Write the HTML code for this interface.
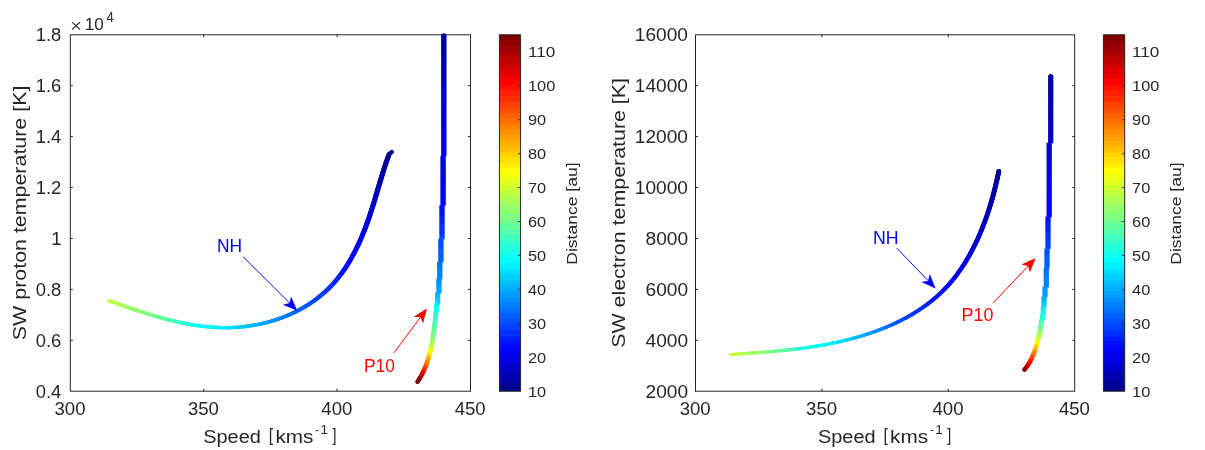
<!DOCTYPE html>
<html><head><meta charset="utf-8"><title>Solar wind temperature vs speed</title>
<style>html,body{margin:0;padding:0;background:#fff;width:1205px;height:450px;overflow:hidden;font-family:"Liberation Sans",sans-serif}svg{display:block;filter:blur(0.35px)}</style>
</head><body>
<svg width="1205" height="450" viewBox="0 0 1205 450" font-family='"Liberation Sans", sans-serif'><rect x="70.3" y="34.8" width="400.2" height="356.4" fill="none" stroke="#262626" stroke-width="1"/><path d="M203.7 391.2v-2.5M203.7 34.8v2.5" stroke="#262626" stroke-width="1"/><path d="M337.1 391.2v-2.5M337.1 34.8v2.5" stroke="#262626" stroke-width="1"/><path d="M70.3 340.3h2.5M470.5 340.3h-2.5" stroke="#262626" stroke-width="1"/><path d="M70.3 289.4h2.5M470.5 289.4h-2.5" stroke="#262626" stroke-width="1"/><path d="M70.3 238.5h2.5M470.5 238.5h-2.5" stroke="#262626" stroke-width="1"/><path d="M70.3 187.5h2.5M470.5 187.5h-2.5" stroke="#262626" stroke-width="1"/><path d="M70.3 136.6h2.5M470.5 136.6h-2.5" stroke="#262626" stroke-width="1"/><path d="M70.3 85.7h2.5M470.5 85.7h-2.5" stroke="#262626" stroke-width="1"/><rect x="695.5" y="34.8" width="379.2" height="356.4" fill="none" stroke="#262626" stroke-width="1"/><path d="M821.9 391.2v-2.5M821.9 34.8v2.5" stroke="#262626" stroke-width="1"/><path d="M948.3 391.2v-2.5M948.3 34.8v2.5" stroke="#262626" stroke-width="1"/><path d="M695.5 340.3h2.5M1074.7 340.3h-2.5" stroke="#262626" stroke-width="1"/><path d="M695.5 289.4h2.5M1074.7 289.4h-2.5" stroke="#262626" stroke-width="1"/><path d="M695.5 238.5h2.5M1074.7 238.5h-2.5" stroke="#262626" stroke-width="1"/><path d="M695.5 187.5h2.5M1074.7 187.5h-2.5" stroke="#262626" stroke-width="1"/><path d="M695.5 136.6h2.5M1074.7 136.6h-2.5" stroke="#262626" stroke-width="1"/><path d="M695.5 85.7h2.5M1074.7 85.7h-2.5" stroke="#262626" stroke-width="1"/><text x="54.5" y="414.6" font-size="18.8" text-anchor="start" fill="#262626" textLength="31.0" lengthAdjust="spacingAndGlyphs">300</text><text x="187.9" y="414.6" font-size="18.8" text-anchor="start" fill="#262626" textLength="31.0" lengthAdjust="spacingAndGlyphs">350</text><text x="321.3" y="414.6" font-size="18.8" text-anchor="start" fill="#262626" textLength="31.0" lengthAdjust="spacingAndGlyphs">400</text><text x="454.7" y="414.6" font-size="18.8" text-anchor="start" fill="#262626" textLength="31.0" lengthAdjust="spacingAndGlyphs">450</text><text x="35.7" y="397.8" font-size="18.6" text-anchor="start" fill="#262626" textLength="25.6" lengthAdjust="spacingAndGlyphs">0.4</text><text x="35.7" y="346.9" font-size="18.6" text-anchor="start" fill="#262626" textLength="25.6" lengthAdjust="spacingAndGlyphs">0.6</text><text x="35.7" y="296.0" font-size="18.6" text-anchor="start" fill="#262626" textLength="25.6" lengthAdjust="spacingAndGlyphs">0.8</text><text x="51.2" y="245.1" font-size="18.6" text-anchor="start" fill="#262626" textLength="10.4" lengthAdjust="spacingAndGlyphs">1</text><text x="35.7" y="194.1" font-size="18.6" text-anchor="start" fill="#262626" textLength="25.6" lengthAdjust="spacingAndGlyphs">1.2</text><text x="35.7" y="143.2" font-size="18.6" text-anchor="start" fill="#262626" textLength="25.6" lengthAdjust="spacingAndGlyphs">1.4</text><text x="35.7" y="92.3" font-size="18.6" text-anchor="start" fill="#262626" textLength="25.6" lengthAdjust="spacingAndGlyphs">1.6</text><text x="35.7" y="41.4" font-size="18.6" text-anchor="start" fill="#262626" textLength="25.6" lengthAdjust="spacingAndGlyphs">1.8</text><text x="70.2" y="31.9" font-size="18.6" text-anchor="start" fill="#4a4a4a" textLength="11.6" lengthAdjust="spacingAndGlyphs">×</text><text x="84.8" y="30.0" font-size="16.9" text-anchor="start" fill="#262626" textLength="19.0" lengthAdjust="spacingAndGlyphs">10</text><text x="106.6" y="21.7" font-size="14.6" text-anchor="start" fill="#262626" textLength="7.3" lengthAdjust="spacingAndGlyphs">4</text><text x="203.2" y="442.6" font-size="19.2" text-anchor="start" fill="#262626" textLength="57.7" lengthAdjust="spacingAndGlyphs">Speed</text><text x="268.7" y="441.1" font-size="18.4" text-anchor="start" fill="#262626" textLength="4.4" lengthAdjust="spacingAndGlyphs">[</text><text x="275.4" y="442.6" font-size="19.2" text-anchor="start" fill="#262626" textLength="38.0" lengthAdjust="spacingAndGlyphs">kms</text><text x="315.2" y="433.9" font-size="13.0" text-anchor="start" fill="#262626" textLength="3.5" lengthAdjust="spacingAndGlyphs">-</text><text x="320.5" y="433.5" font-size="13.0" text-anchor="start" fill="#262626" textLength="7.5" lengthAdjust="spacingAndGlyphs">1</text><text x="332.6" y="441.1" font-size="18.4" text-anchor="start" fill="#262626" textLength="4.0" lengthAdjust="spacingAndGlyphs">]</text><text x="817.9" y="442.6" font-size="19.2" text-anchor="start" fill="#262626" textLength="57.7" lengthAdjust="spacingAndGlyphs">Speed</text><text x="883.4" y="441.1" font-size="18.4" text-anchor="start" fill="#262626" textLength="4.4" lengthAdjust="spacingAndGlyphs">[</text><text x="890.1" y="442.6" font-size="19.2" text-anchor="start" fill="#262626" textLength="38.0" lengthAdjust="spacingAndGlyphs">kms</text><text x="929.9" y="433.9" font-size="13.0" text-anchor="start" fill="#262626" textLength="3.5" lengthAdjust="spacingAndGlyphs">-</text><text x="935.2" y="433.5" font-size="13.0" text-anchor="start" fill="#262626" textLength="7.5" lengthAdjust="spacingAndGlyphs">1</text><text x="947.3" y="441.1" font-size="18.4" text-anchor="start" fill="#262626" textLength="4.0" lengthAdjust="spacingAndGlyphs">]</text><text transform="translate(25.60 340.17) rotate(-90)" font-size="18.4" fill="#262626" textLength="254.56" lengthAdjust="spacingAndGlyphs">SW proton temperature [K]</text><text transform="translate(624.50 347.87) rotate(-90)" font-size="18.4" fill="#262626" textLength="269.90" lengthAdjust="spacingAndGlyphs">SW electron temperature [K]</text><text x="679.7" y="414.6" font-size="18.8" text-anchor="start" fill="#262626" textLength="31.0" lengthAdjust="spacingAndGlyphs">300</text><text x="806.1" y="414.6" font-size="18.8" text-anchor="start" fill="#262626" textLength="31.0" lengthAdjust="spacingAndGlyphs">350</text><text x="932.5" y="414.6" font-size="18.8" text-anchor="start" fill="#262626" textLength="31.0" lengthAdjust="spacingAndGlyphs">400</text><text x="1058.9" y="414.6" font-size="18.8" text-anchor="start" fill="#262626" textLength="31.0" lengthAdjust="spacingAndGlyphs">450</text><text x="645.5" y="397.8" font-size="18.6" text-anchor="start" fill="#262626" textLength="42.6" lengthAdjust="spacingAndGlyphs">2000</text><text x="645.5" y="346.9" font-size="18.6" text-anchor="start" fill="#262626" textLength="42.6" lengthAdjust="spacingAndGlyphs">4000</text><text x="645.5" y="296.0" font-size="18.6" text-anchor="start" fill="#262626" textLength="42.6" lengthAdjust="spacingAndGlyphs">6000</text><text x="645.5" y="245.1" font-size="18.6" text-anchor="start" fill="#262626" textLength="42.6" lengthAdjust="spacingAndGlyphs">8000</text><text x="634.8" y="194.1" font-size="18.6" text-anchor="start" fill="#262626" textLength="53.2" lengthAdjust="spacingAndGlyphs">10000</text><text x="634.8" y="143.2" font-size="18.6" text-anchor="start" fill="#262626" textLength="53.2" lengthAdjust="spacingAndGlyphs">12000</text><text x="634.8" y="92.3" font-size="18.6" text-anchor="start" fill="#262626" textLength="53.2" lengthAdjust="spacingAndGlyphs">14000</text><text x="634.8" y="41.4" font-size="18.6" text-anchor="start" fill="#262626" textLength="53.2" lengthAdjust="spacingAndGlyphs">16000</text><linearGradient id="cb499" x1="0" y1="1" x2="0" y2="0"><stop offset="0.0000" stop-color="#00008f"/><stop offset="0.0156" stop-color="#00008f"/><stop offset="0.0156" stop-color="#00009f"/><stop offset="0.0312" stop-color="#00009f"/><stop offset="0.0312" stop-color="#0000af"/><stop offset="0.0469" stop-color="#0000af"/><stop offset="0.0469" stop-color="#0000bf"/><stop offset="0.0625" stop-color="#0000bf"/><stop offset="0.0625" stop-color="#0000cf"/><stop offset="0.0781" stop-color="#0000cf"/><stop offset="0.0781" stop-color="#0000df"/><stop offset="0.0938" stop-color="#0000df"/><stop offset="0.0938" stop-color="#0000ef"/><stop offset="0.1094" stop-color="#0000ef"/><stop offset="0.1094" stop-color="#0000ff"/><stop offset="0.1250" stop-color="#0000ff"/><stop offset="0.1250" stop-color="#0010ff"/><stop offset="0.1406" stop-color="#0010ff"/><stop offset="0.1406" stop-color="#0020ff"/><stop offset="0.1562" stop-color="#0020ff"/><stop offset="0.1562" stop-color="#0030ff"/><stop offset="0.1719" stop-color="#0030ff"/><stop offset="0.1719" stop-color="#0040ff"/><stop offset="0.1875" stop-color="#0040ff"/><stop offset="0.1875" stop-color="#0050ff"/><stop offset="0.2031" stop-color="#0050ff"/><stop offset="0.2031" stop-color="#0060ff"/><stop offset="0.2188" stop-color="#0060ff"/><stop offset="0.2188" stop-color="#0070ff"/><stop offset="0.2344" stop-color="#0070ff"/><stop offset="0.2344" stop-color="#0080ff"/><stop offset="0.2500" stop-color="#0080ff"/><stop offset="0.2500" stop-color="#008fff"/><stop offset="0.2656" stop-color="#008fff"/><stop offset="0.2656" stop-color="#009fff"/><stop offset="0.2812" stop-color="#009fff"/><stop offset="0.2812" stop-color="#00afff"/><stop offset="0.2969" stop-color="#00afff"/><stop offset="0.2969" stop-color="#00bfff"/><stop offset="0.3125" stop-color="#00bfff"/><stop offset="0.3125" stop-color="#00cfff"/><stop offset="0.3281" stop-color="#00cfff"/><stop offset="0.3281" stop-color="#00dfff"/><stop offset="0.3438" stop-color="#00dfff"/><stop offset="0.3438" stop-color="#00efff"/><stop offset="0.3594" stop-color="#00efff"/><stop offset="0.3594" stop-color="#00ffff"/><stop offset="0.3750" stop-color="#00ffff"/><stop offset="0.3750" stop-color="#10ffef"/><stop offset="0.3906" stop-color="#10ffef"/><stop offset="0.3906" stop-color="#20ffdf"/><stop offset="0.4062" stop-color="#20ffdf"/><stop offset="0.4062" stop-color="#30ffcf"/><stop offset="0.4219" stop-color="#30ffcf"/><stop offset="0.4219" stop-color="#40ffbf"/><stop offset="0.4375" stop-color="#40ffbf"/><stop offset="0.4375" stop-color="#50ffaf"/><stop offset="0.4531" stop-color="#50ffaf"/><stop offset="0.4531" stop-color="#60ff9f"/><stop offset="0.4688" stop-color="#60ff9f"/><stop offset="0.4688" stop-color="#70ff8f"/><stop offset="0.4844" stop-color="#70ff8f"/><stop offset="0.4844" stop-color="#80ff80"/><stop offset="0.5000" stop-color="#80ff80"/><stop offset="0.5000" stop-color="#8fff70"/><stop offset="0.5156" stop-color="#8fff70"/><stop offset="0.5156" stop-color="#9fff60"/><stop offset="0.5312" stop-color="#9fff60"/><stop offset="0.5312" stop-color="#afff50"/><stop offset="0.5469" stop-color="#afff50"/><stop offset="0.5469" stop-color="#bfff40"/><stop offset="0.5625" stop-color="#bfff40"/><stop offset="0.5625" stop-color="#cfff30"/><stop offset="0.5781" stop-color="#cfff30"/><stop offset="0.5781" stop-color="#dfff20"/><stop offset="0.5938" stop-color="#dfff20"/><stop offset="0.5938" stop-color="#efff10"/><stop offset="0.6094" stop-color="#efff10"/><stop offset="0.6094" stop-color="#ffff00"/><stop offset="0.6250" stop-color="#ffff00"/><stop offset="0.6250" stop-color="#ffef00"/><stop offset="0.6406" stop-color="#ffef00"/><stop offset="0.6406" stop-color="#ffdf00"/><stop offset="0.6562" stop-color="#ffdf00"/><stop offset="0.6562" stop-color="#ffcf00"/><stop offset="0.6719" stop-color="#ffcf00"/><stop offset="0.6719" stop-color="#ffbf00"/><stop offset="0.6875" stop-color="#ffbf00"/><stop offset="0.6875" stop-color="#ffaf00"/><stop offset="0.7031" stop-color="#ffaf00"/><stop offset="0.7031" stop-color="#ff9f00"/><stop offset="0.7188" stop-color="#ff9f00"/><stop offset="0.7188" stop-color="#ff8f00"/><stop offset="0.7344" stop-color="#ff8f00"/><stop offset="0.7344" stop-color="#ff8000"/><stop offset="0.7500" stop-color="#ff8000"/><stop offset="0.7500" stop-color="#ff7000"/><stop offset="0.7656" stop-color="#ff7000"/><stop offset="0.7656" stop-color="#ff6000"/><stop offset="0.7812" stop-color="#ff6000"/><stop offset="0.7812" stop-color="#ff5000"/><stop offset="0.7969" stop-color="#ff5000"/><stop offset="0.7969" stop-color="#ff4000"/><stop offset="0.8125" stop-color="#ff4000"/><stop offset="0.8125" stop-color="#ff3000"/><stop offset="0.8281" stop-color="#ff3000"/><stop offset="0.8281" stop-color="#ff2000"/><stop offset="0.8438" stop-color="#ff2000"/><stop offset="0.8438" stop-color="#ff1000"/><stop offset="0.8594" stop-color="#ff1000"/><stop offset="0.8594" stop-color="#ff0000"/><stop offset="0.8750" stop-color="#ff0000"/><stop offset="0.8750" stop-color="#ef0000"/><stop offset="0.8906" stop-color="#ef0000"/><stop offset="0.8906" stop-color="#df0000"/><stop offset="0.9062" stop-color="#df0000"/><stop offset="0.9062" stop-color="#cf0000"/><stop offset="0.9219" stop-color="#cf0000"/><stop offset="0.9219" stop-color="#bf0000"/><stop offset="0.9375" stop-color="#bf0000"/><stop offset="0.9375" stop-color="#af0000"/><stop offset="0.9531" stop-color="#af0000"/><stop offset="0.9531" stop-color="#9f0000"/><stop offset="0.9688" stop-color="#9f0000"/><stop offset="0.9688" stop-color="#8f0000"/><stop offset="0.9844" stop-color="#8f0000"/><stop offset="0.9844" stop-color="#800000"/><stop offset="1.0000" stop-color="#800000"/></linearGradient><rect x="499.4" y="34.8" width="21.2" height="356.4" fill="url(#cb499)" stroke="#262626" stroke-width="1"/><text x="528.0" y="396.6" font-size="15.4" text-anchor="start" fill="#262626" textLength="18.2" lengthAdjust="spacingAndGlyphs">10</text><path d="M520.6 357.3h-2.5" stroke="#262626" stroke-width="1"/><text x="528.0" y="362.7" font-size="15.4" text-anchor="start" fill="#262626" textLength="18.2" lengthAdjust="spacingAndGlyphs">20</text><path d="M520.6 323.3h-2.5" stroke="#262626" stroke-width="1"/><text x="528.0" y="328.7" font-size="15.4" text-anchor="start" fill="#262626" textLength="18.2" lengthAdjust="spacingAndGlyphs">30</text><path d="M520.6 289.4h-2.5" stroke="#262626" stroke-width="1"/><text x="528.0" y="294.8" font-size="15.4" text-anchor="start" fill="#262626" textLength="18.2" lengthAdjust="spacingAndGlyphs">40</text><path d="M520.6 255.4h-2.5" stroke="#262626" stroke-width="1"/><text x="528.0" y="260.8" font-size="15.4" text-anchor="start" fill="#262626" textLength="18.2" lengthAdjust="spacingAndGlyphs">50</text><path d="M520.6 221.5h-2.5" stroke="#262626" stroke-width="1"/><text x="528.0" y="226.9" font-size="15.4" text-anchor="start" fill="#262626" textLength="18.2" lengthAdjust="spacingAndGlyphs">60</text><path d="M520.6 187.5h-2.5" stroke="#262626" stroke-width="1"/><text x="528.0" y="192.8" font-size="15.4" text-anchor="start" fill="#262626" textLength="18.2" lengthAdjust="spacingAndGlyphs">70</text><path d="M520.6 153.6h-2.5" stroke="#262626" stroke-width="1"/><text x="528.0" y="158.8" font-size="15.4" text-anchor="start" fill="#262626" textLength="18.2" lengthAdjust="spacingAndGlyphs">80</text><path d="M520.6 119.7h-2.5" stroke="#262626" stroke-width="1"/><text x="528.0" y="124.7" font-size="15.4" text-anchor="start" fill="#262626" textLength="18.2" lengthAdjust="spacingAndGlyphs">90</text><path d="M520.6 85.7h-2.5" stroke="#262626" stroke-width="1"/><text x="528.0" y="90.6" font-size="15.4" text-anchor="start" fill="#262626" textLength="27.3" lengthAdjust="spacingAndGlyphs">100</text><path d="M520.6 51.8h-2.5" stroke="#262626" stroke-width="1"/><text x="528.0" y="56.6" font-size="15.4" text-anchor="start" fill="#262626" textLength="27.3" lengthAdjust="spacingAndGlyphs">110</text><linearGradient id="cb1103" x1="0" y1="1" x2="0" y2="0"><stop offset="0.0000" stop-color="#00008f"/><stop offset="0.0156" stop-color="#00008f"/><stop offset="0.0156" stop-color="#00009f"/><stop offset="0.0312" stop-color="#00009f"/><stop offset="0.0312" stop-color="#0000af"/><stop offset="0.0469" stop-color="#0000af"/><stop offset="0.0469" stop-color="#0000bf"/><stop offset="0.0625" stop-color="#0000bf"/><stop offset="0.0625" stop-color="#0000cf"/><stop offset="0.0781" stop-color="#0000cf"/><stop offset="0.0781" stop-color="#0000df"/><stop offset="0.0938" stop-color="#0000df"/><stop offset="0.0938" stop-color="#0000ef"/><stop offset="0.1094" stop-color="#0000ef"/><stop offset="0.1094" stop-color="#0000ff"/><stop offset="0.1250" stop-color="#0000ff"/><stop offset="0.1250" stop-color="#0010ff"/><stop offset="0.1406" stop-color="#0010ff"/><stop offset="0.1406" stop-color="#0020ff"/><stop offset="0.1562" stop-color="#0020ff"/><stop offset="0.1562" stop-color="#0030ff"/><stop offset="0.1719" stop-color="#0030ff"/><stop offset="0.1719" stop-color="#0040ff"/><stop offset="0.1875" stop-color="#0040ff"/><stop offset="0.1875" stop-color="#0050ff"/><stop offset="0.2031" stop-color="#0050ff"/><stop offset="0.2031" stop-color="#0060ff"/><stop offset="0.2188" stop-color="#0060ff"/><stop offset="0.2188" stop-color="#0070ff"/><stop offset="0.2344" stop-color="#0070ff"/><stop offset="0.2344" stop-color="#0080ff"/><stop offset="0.2500" stop-color="#0080ff"/><stop offset="0.2500" stop-color="#008fff"/><stop offset="0.2656" stop-color="#008fff"/><stop offset="0.2656" stop-color="#009fff"/><stop offset="0.2812" stop-color="#009fff"/><stop offset="0.2812" stop-color="#00afff"/><stop offset="0.2969" stop-color="#00afff"/><stop offset="0.2969" stop-color="#00bfff"/><stop offset="0.3125" stop-color="#00bfff"/><stop offset="0.3125" stop-color="#00cfff"/><stop offset="0.3281" stop-color="#00cfff"/><stop offset="0.3281" stop-color="#00dfff"/><stop offset="0.3438" stop-color="#00dfff"/><stop offset="0.3438" stop-color="#00efff"/><stop offset="0.3594" stop-color="#00efff"/><stop offset="0.3594" stop-color="#00ffff"/><stop offset="0.3750" stop-color="#00ffff"/><stop offset="0.3750" stop-color="#10ffef"/><stop offset="0.3906" stop-color="#10ffef"/><stop offset="0.3906" stop-color="#20ffdf"/><stop offset="0.4062" stop-color="#20ffdf"/><stop offset="0.4062" stop-color="#30ffcf"/><stop offset="0.4219" stop-color="#30ffcf"/><stop offset="0.4219" stop-color="#40ffbf"/><stop offset="0.4375" stop-color="#40ffbf"/><stop offset="0.4375" stop-color="#50ffaf"/><stop offset="0.4531" stop-color="#50ffaf"/><stop offset="0.4531" stop-color="#60ff9f"/><stop offset="0.4688" stop-color="#60ff9f"/><stop offset="0.4688" stop-color="#70ff8f"/><stop offset="0.4844" stop-color="#70ff8f"/><stop offset="0.4844" stop-color="#80ff80"/><stop offset="0.5000" stop-color="#80ff80"/><stop offset="0.5000" stop-color="#8fff70"/><stop offset="0.5156" stop-color="#8fff70"/><stop offset="0.5156" stop-color="#9fff60"/><stop offset="0.5312" stop-color="#9fff60"/><stop offset="0.5312" stop-color="#afff50"/><stop offset="0.5469" stop-color="#afff50"/><stop offset="0.5469" stop-color="#bfff40"/><stop offset="0.5625" stop-color="#bfff40"/><stop offset="0.5625" stop-color="#cfff30"/><stop offset="0.5781" stop-color="#cfff30"/><stop offset="0.5781" stop-color="#dfff20"/><stop offset="0.5938" stop-color="#dfff20"/><stop offset="0.5938" stop-color="#efff10"/><stop offset="0.6094" stop-color="#efff10"/><stop offset="0.6094" stop-color="#ffff00"/><stop offset="0.6250" stop-color="#ffff00"/><stop offset="0.6250" stop-color="#ffef00"/><stop offset="0.6406" stop-color="#ffef00"/><stop offset="0.6406" stop-color="#ffdf00"/><stop offset="0.6562" stop-color="#ffdf00"/><stop offset="0.6562" stop-color="#ffcf00"/><stop offset="0.6719" stop-color="#ffcf00"/><stop offset="0.6719" stop-color="#ffbf00"/><stop offset="0.6875" stop-color="#ffbf00"/><stop offset="0.6875" stop-color="#ffaf00"/><stop offset="0.7031" stop-color="#ffaf00"/><stop offset="0.7031" stop-color="#ff9f00"/><stop offset="0.7188" stop-color="#ff9f00"/><stop offset="0.7188" stop-color="#ff8f00"/><stop offset="0.7344" stop-color="#ff8f00"/><stop offset="0.7344" stop-color="#ff8000"/><stop offset="0.7500" stop-color="#ff8000"/><stop offset="0.7500" stop-color="#ff7000"/><stop offset="0.7656" stop-color="#ff7000"/><stop offset="0.7656" stop-color="#ff6000"/><stop offset="0.7812" stop-color="#ff6000"/><stop offset="0.7812" stop-color="#ff5000"/><stop offset="0.7969" stop-color="#ff5000"/><stop offset="0.7969" stop-color="#ff4000"/><stop offset="0.8125" stop-color="#ff4000"/><stop offset="0.8125" stop-color="#ff3000"/><stop offset="0.8281" stop-color="#ff3000"/><stop offset="0.8281" stop-color="#ff2000"/><stop offset="0.8438" stop-color="#ff2000"/><stop offset="0.8438" stop-color="#ff1000"/><stop offset="0.8594" stop-color="#ff1000"/><stop offset="0.8594" stop-color="#ff0000"/><stop offset="0.8750" stop-color="#ff0000"/><stop offset="0.8750" stop-color="#ef0000"/><stop offset="0.8906" stop-color="#ef0000"/><stop offset="0.8906" stop-color="#df0000"/><stop offset="0.9062" stop-color="#df0000"/><stop offset="0.9062" stop-color="#cf0000"/><stop offset="0.9219" stop-color="#cf0000"/><stop offset="0.9219" stop-color="#bf0000"/><stop offset="0.9375" stop-color="#bf0000"/><stop offset="0.9375" stop-color="#af0000"/><stop offset="0.9531" stop-color="#af0000"/><stop offset="0.9531" stop-color="#9f0000"/><stop offset="0.9688" stop-color="#9f0000"/><stop offset="0.9688" stop-color="#8f0000"/><stop offset="0.9844" stop-color="#8f0000"/><stop offset="0.9844" stop-color="#800000"/><stop offset="1.0000" stop-color="#800000"/></linearGradient><rect x="1103.4" y="34.8" width="21.3" height="356.4" fill="url(#cb1103)" stroke="#262626" stroke-width="1"/><text x="1132.1" y="396.6" font-size="15.4" text-anchor="start" fill="#262626" textLength="18.2" lengthAdjust="spacingAndGlyphs">10</text><path d="M1124.7 357.3h-2.5" stroke="#262626" stroke-width="1"/><text x="1132.1" y="362.7" font-size="15.4" text-anchor="start" fill="#262626" textLength="18.2" lengthAdjust="spacingAndGlyphs">20</text><path d="M1124.7 323.3h-2.5" stroke="#262626" stroke-width="1"/><text x="1132.1" y="328.7" font-size="15.4" text-anchor="start" fill="#262626" textLength="18.2" lengthAdjust="spacingAndGlyphs">30</text><path d="M1124.7 289.4h-2.5" stroke="#262626" stroke-width="1"/><text x="1132.1" y="294.8" font-size="15.4" text-anchor="start" fill="#262626" textLength="18.2" lengthAdjust="spacingAndGlyphs">40</text><path d="M1124.7 255.4h-2.5" stroke="#262626" stroke-width="1"/><text x="1132.1" y="260.8" font-size="15.4" text-anchor="start" fill="#262626" textLength="18.2" lengthAdjust="spacingAndGlyphs">50</text><path d="M1124.7 221.5h-2.5" stroke="#262626" stroke-width="1"/><text x="1132.1" y="226.9" font-size="15.4" text-anchor="start" fill="#262626" textLength="18.2" lengthAdjust="spacingAndGlyphs">60</text><path d="M1124.7 187.5h-2.5" stroke="#262626" stroke-width="1"/><text x="1132.1" y="192.8" font-size="15.4" text-anchor="start" fill="#262626" textLength="18.2" lengthAdjust="spacingAndGlyphs">70</text><path d="M1124.7 153.6h-2.5" stroke="#262626" stroke-width="1"/><text x="1132.1" y="158.8" font-size="15.4" text-anchor="start" fill="#262626" textLength="18.2" lengthAdjust="spacingAndGlyphs">80</text><path d="M1124.7 119.7h-2.5" stroke="#262626" stroke-width="1"/><text x="1132.1" y="124.7" font-size="15.4" text-anchor="start" fill="#262626" textLength="18.2" lengthAdjust="spacingAndGlyphs">90</text><path d="M1124.7 85.7h-2.5" stroke="#262626" stroke-width="1"/><text x="1132.1" y="90.6" font-size="15.4" text-anchor="start" fill="#262626" textLength="27.3" lengthAdjust="spacingAndGlyphs">100</text><path d="M1124.7 51.8h-2.5" stroke="#262626" stroke-width="1"/><text x="1132.1" y="56.6" font-size="15.4" text-anchor="start" fill="#262626" textLength="27.3" lengthAdjust="spacingAndGlyphs">110</text><text transform="translate(576.60 264.70) rotate(-90)" font-size="14.8" fill="#262626" textLength="102.24" lengthAdjust="spacingAndGlyphs">Distance [au]</text><text transform="translate(1180.70 264.70) rotate(-90)" font-size="14.8" fill="#262626" textLength="102.24" lengthAdjust="spacingAndGlyphs">Distance [au]</text><g fill="none" stroke-linecap="round"><circle cx="109.32" cy="300.81" r="1.84" fill="#cfff30"/><circle cx="391.80" cy="152.00" r="2.09" fill="#00008f"/><path d="M109.32 300.81L110.74 301.32" stroke="#bfff40" stroke-width="3.68"/><path d="M110.74 301.32L112.18 301.83" stroke="#bfff40" stroke-width="3.68"/><path d="M112.18 301.83L113.61 302.34" stroke="#bfff40" stroke-width="3.68"/><path d="M113.61 302.34L115.05 302.85" stroke="#bfff40" stroke-width="3.68"/><path d="M115.05 302.85L116.50 303.36" stroke="#bfff40" stroke-width="3.68"/><path d="M116.50 303.36L117.95 303.88" stroke="#bfff40" stroke-width="3.68"/><path d="M117.95 303.88L119.41 304.39" stroke="#afff50" stroke-width="3.68"/><path d="M119.41 304.39L120.87 304.91" stroke="#afff50" stroke-width="3.68"/><path d="M120.87 304.91L122.34 305.42" stroke="#afff50" stroke-width="3.68"/><path d="M122.34 305.42L123.81 305.94" stroke="#afff50" stroke-width="3.67"/><path d="M123.81 305.94L125.29 306.45" stroke="#afff50" stroke-width="3.67"/><path d="M125.29 306.45L126.77 306.96" stroke="#9fff60" stroke-width="3.67"/><path d="M126.77 306.96L128.25 307.47" stroke="#9fff60" stroke-width="3.67"/><path d="M128.25 307.47L129.74 307.98" stroke="#9fff60" stroke-width="3.67"/><path d="M129.74 307.98L131.23 308.49" stroke="#9fff60" stroke-width="3.67"/><path d="M131.23 308.49L132.73 309.00" stroke="#9fff60" stroke-width="3.66"/><path d="M132.73 309.00L134.23 309.50" stroke="#9fff60" stroke-width="3.66"/><path d="M134.23 309.50L135.74 310.01" stroke="#8fff70" stroke-width="3.66"/><path d="M135.74 310.01L137.25 310.51" stroke="#8fff70" stroke-width="3.66"/><path d="M137.25 310.51L138.76 311.01" stroke="#8fff70" stroke-width="3.66"/><path d="M138.76 311.01L140.28 311.50" stroke="#8fff70" stroke-width="3.65"/><path d="M140.28 311.50L141.80 311.99" stroke="#8fff70" stroke-width="3.65"/><path d="M141.80 311.99L143.33 312.48" stroke="#8fff70" stroke-width="3.65"/><path d="M143.33 312.48L144.85 312.97" stroke="#8fff70" stroke-width="3.65"/><path d="M144.85 312.97L146.39 313.45" stroke="#80ff80" stroke-width="3.64"/><path d="M146.39 313.45L147.92 313.93" stroke="#80ff80" stroke-width="3.64"/><path d="M147.92 313.93L149.46 314.40" stroke="#80ff80" stroke-width="3.64"/><path d="M149.46 314.40L151.00 314.87" stroke="#80ff80" stroke-width="3.64"/><path d="M151.00 314.87L152.55 315.33" stroke="#80ff80" stroke-width="3.63"/><path d="M152.55 315.33L154.10 315.79" stroke="#80ff80" stroke-width="3.63"/><path d="M154.10 315.79L155.65 316.25" stroke="#70ff8f" stroke-width="3.63"/><path d="M155.65 316.25L157.20 316.69" stroke="#70ff8f" stroke-width="3.62"/><path d="M157.20 316.69L158.76 317.14" stroke="#70ff8f" stroke-width="3.62"/><path d="M158.76 317.14L160.32 317.57" stroke="#70ff8f" stroke-width="3.62"/><path d="M160.32 317.57L161.89 318.01" stroke="#70ff8f" stroke-width="3.61"/><path d="M161.89 318.01L163.45 318.43" stroke="#60ff9f" stroke-width="3.61"/><path d="M163.45 318.43L165.02 318.85" stroke="#60ff9f" stroke-width="3.61"/><path d="M165.02 318.85L166.59 319.26" stroke="#60ff9f" stroke-width="3.60"/><path d="M166.59 319.26L168.17 319.67" stroke="#60ff9f" stroke-width="3.60"/><path d="M168.17 319.67L169.75 320.06" stroke="#50ffaf" stroke-width="3.60"/><path d="M169.75 320.06L171.33 320.45" stroke="#50ffaf" stroke-width="3.59"/><path d="M171.33 320.45L172.91 320.84" stroke="#50ffaf" stroke-width="3.59"/><path d="M172.91 320.84L174.49 321.21" stroke="#40ffbf" stroke-width="3.58"/><path d="M174.49 321.21L176.08 321.58" stroke="#40ffbf" stroke-width="3.58"/><path d="M176.08 321.58L177.66 321.93" stroke="#40ffbf" stroke-width="3.58"/><path d="M177.66 321.93L179.25 322.28" stroke="#40ffbf" stroke-width="3.57"/><path d="M179.25 322.28L180.85 322.63" stroke="#30ffcf" stroke-width="3.57"/><path d="M180.85 322.63L182.44 322.96" stroke="#30ffcf" stroke-width="3.57"/><path d="M182.44 322.96L184.04 323.28" stroke="#30ffcf" stroke-width="3.56"/><path d="M184.04 323.28L185.63 323.59" stroke="#30ffcf" stroke-width="3.56"/><path d="M185.63 323.59L187.23 323.90" stroke="#20ffdf" stroke-width="3.56"/><path d="M187.23 323.90L188.83 324.19" stroke="#20ffdf" stroke-width="3.55"/><path d="M188.83 324.19L190.43 324.47" stroke="#20ffdf" stroke-width="3.55"/><path d="M190.43 324.47L192.04 324.75" stroke="#20ffdf" stroke-width="3.55"/><path d="M192.04 324.75L193.64 325.01" stroke="#20ffdf" stroke-width="3.54"/><path d="M193.64 325.01L195.25 325.26" stroke="#10ffef" stroke-width="3.54"/><path d="M195.25 325.26L196.86 325.50" stroke="#10ffef" stroke-width="3.54"/><path d="M196.86 325.50L198.47 325.73" stroke="#10ffef" stroke-width="3.53"/><path d="M198.47 325.73L200.08 325.95" stroke="#10ffef" stroke-width="3.53"/><path d="M200.08 325.95L201.69 326.15" stroke="#10ffef" stroke-width="3.53"/><path d="M201.69 326.15L203.30 326.35" stroke="#00ffff" stroke-width="3.52"/><path d="M203.30 326.35L204.91 326.53" stroke="#00ffff" stroke-width="3.52"/><path d="M204.91 326.53L206.52 326.70" stroke="#00ffff" stroke-width="3.52"/><path d="M206.52 326.70L208.14 326.86" stroke="#00ffff" stroke-width="3.51"/><path d="M208.14 326.86L209.75 327.00" stroke="#00ffff" stroke-width="3.51"/><path d="M209.75 327.00L211.37 327.13" stroke="#00ffff" stroke-width="3.51"/><path d="M211.37 327.13L212.98 327.25" stroke="#00ffff" stroke-width="3.51"/><path d="M212.98 327.25L214.60 327.35" stroke="#00efff" stroke-width="3.51"/><path d="M214.60 327.35L216.21 327.44" stroke="#00efff" stroke-width="3.50"/><path d="M216.21 327.44L217.83 327.52" stroke="#00efff" stroke-width="3.50"/><path d="M217.83 327.52L219.45 327.58" stroke="#00efff" stroke-width="3.50"/><path d="M219.45 327.58L221.06 327.63" stroke="#00efff" stroke-width="3.50"/><path d="M221.06 327.63L222.68 327.66" stroke="#00efff" stroke-width="3.50"/><path d="M222.68 327.66L224.30 327.68" stroke="#00efff" stroke-width="3.50"/><path d="M224.30 327.68L225.92 327.68" stroke="#00efff" stroke-width="3.50"/><path d="M225.92 327.68L227.53 327.67" stroke="#00efff" stroke-width="3.50"/><path d="M227.53 327.67L229.15 327.64" stroke="#00dfff" stroke-width="3.50"/><path d="M229.15 327.64L230.76 327.60" stroke="#00dfff" stroke-width="3.50"/><path d="M230.76 327.60L232.38 327.54" stroke="#00dfff" stroke-width="3.50"/><path d="M232.38 327.54L233.99 327.46" stroke="#00dfff" stroke-width="3.50"/><path d="M233.99 327.46L235.61 327.37" stroke="#00dfff" stroke-width="3.51"/><path d="M235.61 327.37L237.22 327.27" stroke="#00cfff" stroke-width="3.51"/><path d="M237.22 327.27L238.83 327.14" stroke="#00cfff" stroke-width="3.51"/><path d="M238.83 327.14L240.44 327.01" stroke="#00cfff" stroke-width="3.51"/><path d="M240.44 327.01L242.05 326.86" stroke="#00cfff" stroke-width="3.51"/><path d="M242.05 326.86L243.65 326.69" stroke="#00cfff" stroke-width="3.52"/><path d="M243.65 326.69L245.25 326.50" stroke="#00bfff" stroke-width="3.52"/><path d="M245.25 326.50L246.85 326.31" stroke="#00bfff" stroke-width="3.52"/><path d="M246.85 326.31L248.45 326.09" stroke="#00bfff" stroke-width="3.53"/><path d="M248.45 326.09L250.05 325.86" stroke="#00bfff" stroke-width="3.53"/><path d="M250.05 325.86L251.64 325.62" stroke="#00bfff" stroke-width="3.54"/><path d="M251.64 325.62L253.23 325.35" stroke="#00bfff" stroke-width="3.54"/><path d="M253.23 325.35L254.81 325.08" stroke="#00afff" stroke-width="3.55"/><path d="M254.81 325.08L256.39 324.79" stroke="#00afff" stroke-width="3.55"/><path d="M256.39 324.79L257.97 324.48" stroke="#00afff" stroke-width="3.56"/><path d="M257.97 324.48L259.54 324.16" stroke="#00afff" stroke-width="3.56"/><path d="M259.54 324.16L261.11 323.82" stroke="#00afff" stroke-width="3.57"/><path d="M261.11 323.82L262.68 323.46" stroke="#009fff" stroke-width="3.58"/><path d="M262.68 323.46L264.24 323.10" stroke="#009fff" stroke-width="3.58"/><path d="M264.24 323.10L265.79 322.71" stroke="#009fff" stroke-width="3.59"/><path d="M265.79 322.71L267.34 322.31" stroke="#009fff" stroke-width="3.60"/><path d="M267.34 322.31L268.89 321.90" stroke="#009fff" stroke-width="3.61"/><path d="M268.89 321.90L270.43 321.46" stroke="#009fff" stroke-width="3.62"/><path d="M270.43 321.46L271.96 321.02" stroke="#008fff" stroke-width="3.62"/><path d="M271.96 321.02L273.49 320.56" stroke="#008fff" stroke-width="3.63"/><path d="M273.49 320.56L275.01 320.08" stroke="#008fff" stroke-width="3.64"/><path d="M275.01 320.08L276.53 319.59" stroke="#008fff" stroke-width="3.65"/><path d="M276.53 319.59L278.04 319.08" stroke="#008fff" stroke-width="3.66"/><path d="M278.04 319.08L279.54 318.56" stroke="#008fff" stroke-width="3.67"/><path d="M279.54 318.56L281.04 318.02" stroke="#0080ff" stroke-width="3.68"/><path d="M281.04 318.02L282.53 317.46" stroke="#0080ff" stroke-width="3.69"/><path d="M282.53 317.46L284.01 316.89" stroke="#0080ff" stroke-width="3.71"/><path d="M284.01 316.89L285.48 316.31" stroke="#0080ff" stroke-width="3.72"/><path d="M285.48 316.31L286.95 315.71" stroke="#0080ff" stroke-width="3.73"/><path d="M286.95 315.71L288.41 315.09" stroke="#0080ff" stroke-width="3.74"/><path d="M288.41 315.09L289.86 314.46" stroke="#0070ff" stroke-width="3.75"/><path d="M289.86 314.46L291.30 313.81" stroke="#0070ff" stroke-width="3.77"/><path d="M291.30 313.81L292.74 313.15" stroke="#0070ff" stroke-width="3.78"/><path d="M292.74 313.15L294.16 312.47" stroke="#0070ff" stroke-width="3.79"/><path d="M294.16 312.47L295.58 311.78" stroke="#0070ff" stroke-width="3.81"/><path d="M295.58 311.78L296.99 311.07" stroke="#0060ff" stroke-width="3.82"/><path d="M296.99 311.07L298.39 310.35" stroke="#0060ff" stroke-width="3.84"/><path d="M298.39 310.35L299.78 309.61" stroke="#0060ff" stroke-width="3.85"/><path d="M299.78 309.61L301.16 308.86" stroke="#0060ff" stroke-width="3.87"/><path d="M301.16 308.86L302.53 308.09" stroke="#0060ff" stroke-width="3.88"/><path d="M302.53 308.09L303.89 307.30" stroke="#0060ff" stroke-width="3.90"/><path d="M303.89 307.30L305.24 306.50" stroke="#0060ff" stroke-width="3.92"/><path d="M305.24 306.50L306.58 305.69" stroke="#0050ff" stroke-width="3.93"/><path d="M306.58 305.69L307.90 304.86" stroke="#0050ff" stroke-width="3.95"/><path d="M307.90 304.86L309.22 304.01" stroke="#0050ff" stroke-width="3.97"/><path d="M309.22 304.01L310.53 303.15" stroke="#0050ff" stroke-width="3.98"/><path d="M310.53 303.15L311.83 302.27" stroke="#0050ff" stroke-width="4.00"/><path d="M311.83 302.27L313.11 301.38" stroke="#0050ff" stroke-width="4.02"/><path d="M313.11 301.38L314.38 300.47" stroke="#0050ff" stroke-width="4.04"/><path d="M314.38 300.47L315.65 299.55" stroke="#0050ff" stroke-width="4.06"/><path d="M315.65 299.55L316.89 298.61" stroke="#0040ff" stroke-width="4.08"/><path d="M316.89 298.61L318.13 297.66" stroke="#0040ff" stroke-width="4.10"/><path d="M318.13 297.66L319.36 296.69" stroke="#0040ff" stroke-width="4.12"/><path d="M319.36 296.69L320.57 295.71" stroke="#0040ff" stroke-width="4.14"/><path d="M320.57 295.71L321.77 294.71" stroke="#0040ff" stroke-width="4.16"/><path d="M321.77 294.71L322.96 293.69" stroke="#0040ff" stroke-width="4.18"/><path d="M322.96 293.69L324.13 292.66" stroke="#0040ff" stroke-width="4.20"/><path d="M324.13 292.66L325.29 291.62" stroke="#0040ff" stroke-width="4.22"/><path d="M325.29 291.62L326.44 290.56" stroke="#0040ff" stroke-width="4.24"/><path d="M326.44 290.56L327.57 289.48" stroke="#0030ff" stroke-width="4.26"/><path d="M327.57 289.48L328.69 288.39" stroke="#0030ff" stroke-width="4.28"/><path d="M328.69 288.39L329.79 287.28" stroke="#0030ff" stroke-width="4.30"/><path d="M329.79 287.28L330.88 286.16" stroke="#0030ff" stroke-width="4.32"/><path d="M330.88 286.16L331.96 285.03" stroke="#0030ff" stroke-width="4.34"/><path d="M331.96 285.03L333.02 283.87" stroke="#0030ff" stroke-width="4.37"/><path d="M333.02 283.87L334.07 282.71" stroke="#0030ff" stroke-width="4.39"/><path d="M334.07 282.71L335.10 281.53" stroke="#0020ff" stroke-width="4.41"/><path d="M335.10 281.53L336.12 280.33" stroke="#0020ff" stroke-width="4.43"/><path d="M336.12 280.33L337.12 279.12" stroke="#0020ff" stroke-width="4.45"/><path d="M337.12 279.12L338.11 277.89" stroke="#0020ff" stroke-width="4.47"/><path d="M338.11 277.89L339.09 276.66" stroke="#0020ff" stroke-width="4.49"/><path d="M339.09 276.66L340.05 275.41" stroke="#0020ff" stroke-width="4.51"/><path d="M340.05 275.41L341.00 274.14" stroke="#0020ff" stroke-width="4.52"/><path d="M341.00 274.14L341.93 272.87" stroke="#0020ff" stroke-width="4.54"/><path d="M341.93 272.87L342.85 271.58" stroke="#0010ff" stroke-width="4.56"/><path d="M342.85 271.58L343.76 270.27" stroke="#0010ff" stroke-width="4.58"/><path d="M343.76 270.27L344.66 268.96" stroke="#0010ff" stroke-width="4.59"/><path d="M344.66 268.96L345.54 267.64" stroke="#0010ff" stroke-width="4.61"/><path d="M345.54 267.64L346.41 266.30" stroke="#0010ff" stroke-width="4.62"/><path d="M346.41 266.30L347.27 264.95" stroke="#0010ff" stroke-width="4.64"/><path d="M347.27 264.95L348.11 263.60" stroke="#0010ff" stroke-width="4.65"/><path d="M348.11 263.60L348.95 262.23" stroke="#0010ff" stroke-width="4.67"/><path d="M348.95 262.23L349.77 260.85" stroke="#0000ff" stroke-width="4.68"/><path d="M349.77 260.85L350.58 259.46" stroke="#0000ff" stroke-width="4.69"/><path d="M350.58 259.46L351.37 258.06" stroke="#0000ff" stroke-width="4.71"/><path d="M351.37 258.06L352.16 256.66" stroke="#0000ff" stroke-width="4.72"/><path d="M352.16 256.66L352.93 255.24" stroke="#0000ff" stroke-width="4.73"/><path d="M352.93 255.24L353.70 253.82" stroke="#0000ff" stroke-width="4.74"/><path d="M353.70 253.82L354.45 252.38" stroke="#0000ff" stroke-width="4.75"/><path d="M354.45 252.38L355.19 250.94" stroke="#0000ff" stroke-width="4.77"/><path d="M355.19 250.94L355.92 249.49" stroke="#0000ff" stroke-width="4.78"/><path d="M355.92 249.49L356.64 248.04" stroke="#0000ef" stroke-width="4.79"/><path d="M356.64 248.04L357.34 246.57" stroke="#0000ef" stroke-width="4.80"/><path d="M357.34 246.57L358.04 245.10" stroke="#0000ef" stroke-width="4.81"/><path d="M358.04 245.10L358.73 243.62" stroke="#0000ef" stroke-width="4.82"/><path d="M358.73 243.62L359.41 242.14" stroke="#0000ef" stroke-width="4.82"/><path d="M359.41 242.14L360.07 240.65" stroke="#0000ef" stroke-width="4.83"/><path d="M360.07 240.65L360.73 239.15" stroke="#0000ef" stroke-width="4.84"/><path d="M360.73 239.15L361.38 237.65" stroke="#0000ef" stroke-width="4.85"/><path d="M361.38 237.65L362.02 236.14" stroke="#0000ef" stroke-width="4.86"/><path d="M362.02 236.14L362.65 234.63" stroke="#0000ef" stroke-width="4.86"/><path d="M362.65 234.63L363.27 233.12" stroke="#0000ef" stroke-width="4.87"/><path d="M363.27 233.12L363.88 231.59" stroke="#0000df" stroke-width="4.88"/><path d="M363.88 231.59L364.48 230.07" stroke="#0000df" stroke-width="4.88"/><path d="M364.48 230.07L365.07 228.54" stroke="#0000df" stroke-width="4.89"/><path d="M365.07 228.54L365.66 227.01" stroke="#0000df" stroke-width="4.90"/><path d="M365.66 227.01L366.23 225.47" stroke="#0000df" stroke-width="4.90"/><path d="M366.23 225.47L366.80 223.93" stroke="#0000df" stroke-width="4.91"/><path d="M366.80 223.93L367.36 222.39" stroke="#0000df" stroke-width="4.91"/><path d="M367.36 222.39L367.91 220.85" stroke="#0000df" stroke-width="4.92"/><path d="M367.91 220.85L368.45 219.30" stroke="#0000df" stroke-width="4.92"/><path d="M368.45 219.30L368.99 217.75" stroke="#0000df" stroke-width="4.93"/><path d="M368.99 217.75L369.52 216.20" stroke="#0000cf" stroke-width="4.93"/><path d="M369.52 216.20L370.04 214.65" stroke="#0000cf" stroke-width="4.94"/><path d="M370.04 214.65L370.55 213.10" stroke="#0000cf" stroke-width="4.94"/><path d="M370.55 213.10L371.06 211.55" stroke="#0000cf" stroke-width="4.95"/><path d="M371.06 211.55L371.56 209.99" stroke="#0000cf" stroke-width="4.95"/><path d="M371.56 209.99L372.06 208.44" stroke="#0000cf" stroke-width="4.95"/><path d="M372.06 208.44L372.55 206.89" stroke="#0000cf" stroke-width="4.95"/><path d="M372.55 206.89L373.04 205.33" stroke="#0000cf" stroke-width="4.96"/><path d="M373.04 205.33L373.52 203.78" stroke="#0000cf" stroke-width="4.96"/><path d="M373.52 203.78L373.99 202.22" stroke="#0000cf" stroke-width="4.96"/><path d="M373.99 202.22L374.47 200.67" stroke="#0000bf" stroke-width="4.96"/><path d="M374.47 200.67L374.94 199.12" stroke="#0000bf" stroke-width="4.97"/><path d="M374.94 199.12L375.40 197.57" stroke="#0000bf" stroke-width="4.97"/><path d="M375.40 197.57L375.87 196.02" stroke="#0000bf" stroke-width="4.97"/><path d="M375.87 196.02L376.33 194.48" stroke="#0000bf" stroke-width="4.97"/><path d="M376.33 194.48L376.79 192.93" stroke="#0000bf" stroke-width="4.97"/><path d="M376.79 192.93L377.25 191.39" stroke="#0000bf" stroke-width="4.97"/><path d="M377.25 191.39L377.70 189.85" stroke="#0000bf" stroke-width="4.97"/><path d="M377.70 189.85L378.16 188.31" stroke="#0000bf" stroke-width="4.97"/><path d="M378.16 188.31L378.61 186.78" stroke="#0000bf" stroke-width="4.97"/><path d="M378.61 186.78L379.06 185.25" stroke="#0000af" stroke-width="4.97"/><path d="M379.06 185.25L379.51 183.72" stroke="#0000af" stroke-width="4.97"/><path d="M379.51 183.72L379.97 182.20" stroke="#0000af" stroke-width="4.97"/><path d="M379.97 182.20L380.42 180.68" stroke="#0000af" stroke-width="4.97"/><path d="M380.42 180.68L380.88 179.17" stroke="#0000af" stroke-width="4.97"/><path d="M380.88 179.17L381.33 177.66" stroke="#0000af" stroke-width="4.97"/><path d="M381.33 177.66L381.79 176.15" stroke="#0000af" stroke-width="4.96"/><path d="M381.79 176.15L382.25 174.65" stroke="#0000af" stroke-width="4.96"/><path d="M382.25 174.65L382.71 173.16" stroke="#0000af" stroke-width="4.96"/><path d="M382.71 173.16L383.17 171.67" stroke="#0000af" stroke-width="4.96"/><path d="M383.17 171.67L383.64 170.19" stroke="#0000af" stroke-width="4.96"/><path d="M383.64 170.19L384.11 168.71" stroke="#00009f" stroke-width="4.95"/><path d="M384.11 168.71L384.58 167.24" stroke="#00009f" stroke-width="4.95"/><path d="M384.58 167.24L385.06 165.78" stroke="#00009f" stroke-width="4.95"/><path d="M385.06 165.78L385.54 164.32" stroke="#00009f" stroke-width="4.94"/><path d="M385.54 164.32L386.03 162.87" stroke="#00009f" stroke-width="4.94"/><path d="M386.03 162.87L386.52 161.42" stroke="#00009f" stroke-width="4.93"/><path d="M386.52 161.42L387.02 159.99" stroke="#00009f" stroke-width="4.93"/><path d="M387.02 159.99L387.52 158.56" stroke="#00009f" stroke-width="4.92"/><path d="M387.52 158.56L388.03 157.14" stroke="#00009f" stroke-width="4.92"/><path d="M388.03 157.14L388.54 155.73" stroke="#00008f" stroke-width="4.91"/><path d="M388.54 155.73L389.06 154.32" stroke="#00008f" stroke-width="4.91"/><path d="M389.06 154.32L391.80 152.00" stroke="#00008f" stroke-width="4.17"/></g><g fill="none" stroke-width="5.30" stroke-linecap="butt"><circle cx="443.80" cy="35.80" r="2.65" fill="#00008f"/><path d="M443.80 35.50V38.10" stroke="#00009f"/><path d="M443.80 37.50V40.11" stroke="#00009f"/><path d="M443.80 39.51V42.11" stroke="#00009f"/><path d="M443.80 41.51V44.11" stroke="#00009f"/><path d="M443.80 43.51V46.12" stroke="#00009f"/><path d="M443.80 45.52V48.12" stroke="#00009f"/><path d="M443.80 47.52V50.12" stroke="#00009f"/><path d="M443.80 49.52V52.13" stroke="#00009f"/><path d="M443.80 51.53V54.13" stroke="#00009f"/><path d="M443.80 53.53V56.13" stroke="#00009f"/><path d="M443.80 55.53V58.14" stroke="#00009f"/><path d="M443.80 57.54V60.14" stroke="#00009f"/><path d="M443.80 59.54V62.14" stroke="#0000af"/><path d="M443.80 61.54V64.15" stroke="#0000af"/><path d="M443.80 63.55V66.15" stroke="#0000af"/><path d="M443.80 65.55V68.15" stroke="#0000af"/><path d="M443.80 67.55V70.16" stroke="#0000af"/><path d="M443.80 69.56V72.16" stroke="#0000af"/><path d="M443.80 71.56V74.16" stroke="#0000af"/><path d="M443.80 73.56V76.17" stroke="#0000af"/><path d="M443.80 75.57V78.17" stroke="#0000af"/><path d="M443.80 77.57V80.17" stroke="#0000af"/><path d="M443.80 79.57V82.18" stroke="#0000af"/><path d="M443.80 81.58V84.18" stroke="#0000bf"/><path d="M443.80 83.58V86.18" stroke="#0000bf"/><path d="M443.80 85.58V88.19" stroke="#0000bf"/><path d="M443.80 87.59V90.19" stroke="#0000bf"/><path d="M443.80 89.59V92.19" stroke="#0000bf"/><path d="M443.80 91.59V94.20" stroke="#0000bf"/><path d="M443.80 93.60V96.20" stroke="#0000bf"/><path d="M443.80 95.60V98.20" stroke="#0000bf"/><path d="M443.80 97.60V100.21" stroke="#0000bf"/><path d="M443.80 99.61V102.21" stroke="#0000bf"/><path d="M443.80 101.61V104.21" stroke="#0000bf"/><path d="M443.80 103.61V106.22" stroke="#0000bf"/><path d="M443.80 105.62V108.22" stroke="#0000cf"/><path d="M443.80 107.62V110.22" stroke="#0000cf"/><path d="M443.80 109.62V112.23" stroke="#0000cf"/><path d="M443.80 111.63V114.23" stroke="#0000cf"/><path d="M443.80 113.63V116.23" stroke="#0000cf"/><path d="M443.80 115.63V118.24" stroke="#0000cf"/><path d="M443.80 117.64V120.24" stroke="#0000cf"/><path d="M443.80 119.64V122.24" stroke="#0000cf"/><path d="M443.80 121.64V124.25" stroke="#0000cf"/><path d="M443.80 123.65V126.25" stroke="#0000cf"/><path d="M443.80 125.65V128.25" stroke="#0000cf"/><path d="M443.80 127.65V130.26" stroke="#0000df"/><path d="M443.80 129.66V132.26" stroke="#0000df"/><path d="M443.80 131.66V134.26" stroke="#0000df"/><path d="M443.80 133.66V136.27" stroke="#0000df"/><path d="M443.80 135.67V138.27" stroke="#0000df"/><path d="M443.80 137.67V140.27" stroke="#0000df"/><path d="M443.80 139.67V142.28" stroke="#0000df"/><path d="M443.80 141.68V144.28" stroke="#0000df"/><path d="M443.80 143.68V146.28" stroke="#0000df"/><path d="M443.80 145.68V148.29" stroke="#0000df"/><path d="M443.80 147.69V150.29" stroke="#0000df"/><path d="M443.80 149.69V152.29" stroke="#0000df"/><path d="M443.80 151.69V154.30" stroke="#0000ef"/><path d="M443.80 153.70V156.30" stroke="#0000ef"/><path d="M443.10 155.70V158.36" stroke="#0000ef"/><path d="M443.10 157.76V160.43" stroke="#0000ef"/><path d="M443.10 159.82V162.49" stroke="#0000ef"/><path d="M443.10 161.89V164.55" stroke="#0000ef"/><path d="M443.10 163.95V166.61" stroke="#0000ef"/><path d="M443.10 166.01V168.68" stroke="#0000ef"/><path d="M443.10 168.07V170.74" stroke="#0000ef"/><path d="M443.10 170.14V172.80" stroke="#0000ef"/><path d="M443.10 172.20V174.86" stroke="#0000ef"/><path d="M443.10 174.26V176.93" stroke="#0000ef"/><path d="M443.10 176.32V178.99" stroke="#0000ef"/><path d="M443.10 178.39V181.05" stroke="#0000ef"/><path d="M443.10 180.45V183.11" stroke="#0000ef"/><path d="M443.10 182.51V185.18" stroke="#0000ef"/><path d="M443.10 184.57V187.24" stroke="#0000ef"/><path d="M443.10 186.64V189.30" stroke="#0000ff"/><path d="M443.10 188.70V191.36" stroke="#0000ff"/><path d="M443.10 190.76V193.43" stroke="#0000ff"/><path d="M443.10 192.82V195.49" stroke="#0000ff"/><path d="M443.10 194.89V197.55" stroke="#0000ff"/><path d="M443.10 196.95V199.61" stroke="#0000ff"/><path d="M443.10 199.01V201.68" stroke="#0000ff"/><path d="M443.10 201.07V203.74" stroke="#0000ff"/><path d="M443.10 203.14V205.80" stroke="#0000ff"/><path d="M442.00 205.20V207.89" stroke="#0010ff"/><path d="M442.00 207.29V209.99" stroke="#0010ff"/><path d="M442.00 209.39V212.08" stroke="#0010ff"/><path d="M442.00 211.48V214.18" stroke="#0010ff"/><path d="M442.00 213.57V216.27" stroke="#0010ff"/><path d="M442.00 215.67V218.36" stroke="#0020ff"/><path d="M442.00 217.76V220.46" stroke="#0020ff"/><path d="M442.00 219.86V222.55" stroke="#0020ff"/><path d="M442.00 221.95V224.64" stroke="#0020ff"/><path d="M442.00 224.04V226.74" stroke="#0030ff"/><path d="M442.00 226.14V228.83" stroke="#0030ff"/><path d="M442.00 228.23V230.93" stroke="#0030ff"/><path d="M442.00 230.32V233.02" stroke="#0030ff"/><path d="M442.00 232.42V235.11" stroke="#0030ff"/><path d="M442.00 234.51V237.21" stroke="#0040ff"/><path d="M442.00 236.61V239.30" stroke="#0040ff"/><path d="M440.90 238.70V241.39" stroke="#0050ff"/><path d="M440.90 240.79V243.48" stroke="#0050ff"/><path d="M440.90 242.88V245.57" stroke="#0050ff"/><path d="M440.90 244.97V247.66" stroke="#0050ff"/><path d="M440.90 247.06V249.75" stroke="#0050ff"/><path d="M440.90 249.15V251.85" stroke="#0060ff"/><path d="M440.90 251.25V253.94" stroke="#0060ff"/><path d="M440.90 253.34V256.03" stroke="#0060ff"/><path d="M440.90 255.43V258.12" stroke="#0060ff"/><path d="M440.90 257.52V260.21" stroke="#0060ff"/><path d="M440.90 259.61V262.30" stroke="#0060ff"/><path d="M439.75 261.70V264.43" stroke="#0070ff"/><path d="M439.75 263.82V266.55" stroke="#0070ff"/><path d="M439.75 265.95V268.68" stroke="#0070ff"/><path d="M439.75 268.07V270.80" stroke="#0080ff"/><path d="M439.75 270.20V272.93" stroke="#0080ff"/><path d="M439.75 272.32V275.05" stroke="#0080ff"/><path d="M439.75 274.45V277.18" stroke="#0080ff"/><path d="M439.75 276.57V279.30" stroke="#0080ff"/><path d="M438.90 278.70V281.30" stroke="#008fff"/><path d="M438.90 280.70V283.30" stroke="#008fff"/><path d="M438.90 282.70V285.30" stroke="#008fff"/><path d="M438.90 284.70V287.30" stroke="#009fff"/><path d="M438.90 286.70V289.30" stroke="#009fff"/><path d="M438.90 288.70V291.30" stroke="#009fff"/><path d="M438.90 290.70V293.30" stroke="#009fff"/><path d="M437.60 292.70V295.30" stroke="#00afff"/><path d="M437.60 294.70V297.30" stroke="#00bfff"/><path d="M437.60 296.70V299.30" stroke="#00bfff"/><path d="M437.60 298.70V301.30" stroke="#00cfff"/><path d="M437.60 300.70V303.30" stroke="#00cfff"/><path d="M437.60 302.70V305.30" stroke="#00dfff"/></g><g fill="none" stroke-linecap="round"><circle cx="437.09" cy="303.13" r="2.34" fill="#00dfff"/><circle cx="417.54" cy="381.79" r="2.15" fill="#800000"/><path d="M437.09 303.13L436.94 304.47" stroke="#00dfff" stroke-width="4.68"/><path d="M436.94 304.47L436.78 305.81" stroke="#00efff" stroke-width="4.68"/><path d="M436.78 305.81L436.63 307.16" stroke="#00efff" stroke-width="4.68"/><path d="M436.63 307.16L436.48 308.52" stroke="#00ffff" stroke-width="4.68"/><path d="M436.48 308.52L436.33 309.88" stroke="#00ffff" stroke-width="4.68"/><path d="M436.33 309.88L436.19 311.24" stroke="#10ffef" stroke-width="4.69"/><path d="M436.19 311.24L436.04 312.61" stroke="#10ffef" stroke-width="4.69"/><path d="M436.04 312.61L435.89 313.98" stroke="#10ffef" stroke-width="4.69"/><path d="M435.89 313.98L435.75 315.36" stroke="#20ffdf" stroke-width="4.69"/><path d="M435.75 315.36L435.60 316.74" stroke="#20ffdf" stroke-width="4.69"/><path d="M435.60 316.74L435.45 318.12" stroke="#30ffcf" stroke-width="4.69"/><path d="M435.45 318.12L435.30 319.50" stroke="#30ffcf" stroke-width="4.68"/><path d="M435.30 319.50L435.15 320.89" stroke="#30ffcf" stroke-width="4.68"/><path d="M435.15 320.89L434.99 322.28" stroke="#40ffbf" stroke-width="4.68"/><path d="M434.99 322.28L434.83 323.67" stroke="#40ffbf" stroke-width="4.68"/><path d="M434.83 323.67L434.67 325.06" stroke="#50ffaf" stroke-width="4.68"/><path d="M434.67 325.06L434.50 326.45" stroke="#50ffaf" stroke-width="4.68"/><path d="M434.50 326.45L434.33 327.84" stroke="#50ffaf" stroke-width="4.68"/><path d="M434.33 327.84L434.16 329.24" stroke="#60ff9f" stroke-width="4.68"/><path d="M434.16 329.24L433.97 330.63" stroke="#60ff9f" stroke-width="4.68"/><path d="M433.97 330.63L433.79 332.03" stroke="#60ff9f" stroke-width="4.68"/><path d="M433.79 332.03L433.59 333.42" stroke="#70ff8f" stroke-width="4.68"/><path d="M433.59 333.42L433.39 334.81" stroke="#70ff8f" stroke-width="4.67"/><path d="M433.39 334.81L433.18 336.20" stroke="#70ff8f" stroke-width="4.67"/><path d="M433.18 336.20L432.96 337.59" stroke="#80ff80" stroke-width="4.67"/><path d="M432.96 337.59L432.74 338.98" stroke="#80ff80" stroke-width="4.67"/><path d="M432.74 338.98L432.50 340.37" stroke="#80ff80" stroke-width="4.66"/><path d="M432.50 340.37L432.26 341.75" stroke="#8fff70" stroke-width="4.66"/><path d="M432.26 341.75L432.01 343.13" stroke="#9fff60" stroke-width="4.66"/><path d="M432.01 343.13L431.74 344.51" stroke="#afff50" stroke-width="4.65"/><path d="M431.74 344.51L431.47 345.88" stroke="#afff50" stroke-width="4.65"/><path d="M431.47 345.88L431.19 347.26" stroke="#bfff40" stroke-width="4.65"/><path d="M431.19 347.26L430.89 348.62" stroke="#cfff30" stroke-width="4.64"/><path d="M430.89 348.62L430.58 349.99" stroke="#cfff30" stroke-width="4.64"/><path d="M430.58 349.99L430.26 351.34" stroke="#dfff20" stroke-width="4.63"/><path d="M430.26 351.34L429.92 352.70" stroke="#efff10" stroke-width="4.63"/><path d="M429.92 352.70L429.57 354.05" stroke="#ffff00" stroke-width="4.62"/><path d="M429.57 354.05L429.21 355.39" stroke="#ffef00" stroke-width="4.61"/><path d="M429.21 355.39L428.84 356.73" stroke="#ffdf00" stroke-width="4.60"/><path d="M428.84 356.73L428.44 358.06" stroke="#ffcf00" stroke-width="4.60"/><path d="M428.44 358.06L428.04 359.38" stroke="#ffbf00" stroke-width="4.59"/><path d="M428.04 359.38L427.61 360.70" stroke="#ffaf00" stroke-width="4.58"/><path d="M427.61 360.70L427.17 362.01" stroke="#ff9f00" stroke-width="4.57"/><path d="M427.17 362.01L426.72 363.32" stroke="#ff8f00" stroke-width="4.56"/><path d="M426.72 363.32L426.24 364.61" stroke="#ff8000" stroke-width="4.55"/><path d="M426.24 364.61L425.75 365.90" stroke="#ff7000" stroke-width="4.53"/><path d="M425.75 365.90L425.24 367.18" stroke="#ff6000" stroke-width="4.52"/><path d="M425.24 367.18L424.71 368.45" stroke="#ff5000" stroke-width="4.51"/><path d="M424.71 368.45L424.17 369.72" stroke="#ff4000" stroke-width="4.49"/><path d="M424.17 369.72L423.60 370.97" stroke="#ff3000" stroke-width="4.48"/><path d="M423.60 370.97L423.01 372.22" stroke="#ff2000" stroke-width="4.46"/><path d="M423.01 372.22L422.41 373.45" stroke="#ff1000" stroke-width="4.45"/><path d="M422.41 373.45L421.78 374.67" stroke="#ff0000" stroke-width="4.43"/><path d="M421.78 374.67L421.13 375.89" stroke="#df0000" stroke-width="4.41"/><path d="M421.13 375.89L420.45 377.09" stroke="#cf0000" stroke-width="4.39"/><path d="M420.45 377.09L419.76 378.28" stroke="#bf0000" stroke-width="4.37"/><path d="M419.76 378.28L419.04 379.47" stroke="#af0000" stroke-width="4.35"/><path d="M419.04 379.47L418.30 380.64" stroke="#8f0000" stroke-width="4.33"/><path d="M418.30 380.64L417.54 381.79" stroke="#800000" stroke-width="4.30"/></g><g fill="none" stroke-linecap="round"><circle cx="730.90" cy="354.48" r="1.60" fill="#cfff30"/><circle cx="998.76" cy="171.51" r="2.42" fill="#00008f"/><path d="M730.90 354.48L732.39 354.38" stroke="#bfff40" stroke-width="3.21"/><path d="M732.39 354.38L733.88 354.29" stroke="#bfff40" stroke-width="3.21"/><path d="M733.88 354.29L735.36 354.19" stroke="#bfff40" stroke-width="3.21"/><path d="M735.36 354.19L736.85 354.09" stroke="#bfff40" stroke-width="3.21"/><path d="M736.85 354.09L738.34 354.00" stroke="#bfff40" stroke-width="3.21"/><path d="M738.34 354.00L739.83 353.90" stroke="#bfff40" stroke-width="3.21"/><path d="M739.83 353.90L741.32 353.80" stroke="#bfff40" stroke-width="3.21"/><path d="M741.32 353.80L742.81 353.70" stroke="#afff50" stroke-width="3.21"/><path d="M742.81 353.70L744.30 353.60" stroke="#afff50" stroke-width="3.21"/><path d="M744.30 353.60L745.79 353.50" stroke="#afff50" stroke-width="3.21"/><path d="M745.79 353.50L747.28 353.40" stroke="#afff50" stroke-width="3.21"/><path d="M747.28 353.40L748.78 353.30" stroke="#afff50" stroke-width="3.21"/><path d="M748.78 353.30L750.27 353.19" stroke="#afff50" stroke-width="3.21"/><path d="M750.27 353.19L751.76 353.09" stroke="#9fff60" stroke-width="3.21"/><path d="M751.76 353.09L753.26 352.98" stroke="#9fff60" stroke-width="3.21"/><path d="M753.26 352.98L754.75 352.87" stroke="#9fff60" stroke-width="3.21"/><path d="M754.75 352.87L756.25 352.77" stroke="#9fff60" stroke-width="3.21"/><path d="M756.25 352.77L757.74 352.66" stroke="#9fff60" stroke-width="3.21"/><path d="M757.74 352.66L759.24 352.54" stroke="#9fff60" stroke-width="3.21"/><path d="M759.24 352.54L760.73 352.43" stroke="#9fff60" stroke-width="3.21"/><path d="M760.73 352.43L762.23 352.32" stroke="#8fff70" stroke-width="3.21"/><path d="M762.23 352.32L763.72 352.20" stroke="#8fff70" stroke-width="3.21"/><path d="M763.72 352.20L765.22 352.08" stroke="#8fff70" stroke-width="3.21"/><path d="M765.22 352.08L766.72 351.96" stroke="#8fff70" stroke-width="3.21"/><path d="M766.72 351.96L768.21 351.83" stroke="#80ff80" stroke-width="3.21"/><path d="M768.21 351.83L769.71 351.71" stroke="#80ff80" stroke-width="3.21"/><path d="M769.71 351.71L771.21 351.58" stroke="#80ff80" stroke-width="3.21"/><path d="M771.21 351.58L772.70 351.45" stroke="#80ff80" stroke-width="3.21"/><path d="M772.70 351.45L774.20 351.32" stroke="#70ff8f" stroke-width="3.21"/><path d="M774.20 351.32L775.70 351.18" stroke="#70ff8f" stroke-width="3.21"/><path d="M775.70 351.18L777.20 351.05" stroke="#70ff8f" stroke-width="3.21"/><path d="M777.20 351.05L778.69 350.90" stroke="#70ff8f" stroke-width="3.21"/><path d="M778.69 350.90L780.19 350.76" stroke="#70ff8f" stroke-width="3.22"/><path d="M780.19 350.76L781.69 350.61" stroke="#60ff9f" stroke-width="3.22"/><path d="M781.69 350.61L783.19 350.46" stroke="#60ff9f" stroke-width="3.22"/><path d="M783.19 350.46L784.68 350.31" stroke="#60ff9f" stroke-width="3.22"/><path d="M784.68 350.31L786.18 350.16" stroke="#60ff9f" stroke-width="3.22"/><path d="M786.18 350.16L787.68 350.00" stroke="#50ffaf" stroke-width="3.22"/><path d="M787.68 350.00L789.18 349.83" stroke="#50ffaf" stroke-width="3.22"/><path d="M789.18 349.83L790.67 349.67" stroke="#50ffaf" stroke-width="3.22"/><path d="M790.67 349.67L792.17 349.50" stroke="#40ffbf" stroke-width="3.22"/><path d="M792.17 349.50L793.67 349.32" stroke="#40ffbf" stroke-width="3.22"/><path d="M793.67 349.32L795.16 349.15" stroke="#40ffbf" stroke-width="3.22"/><path d="M795.16 349.15L796.66 348.97" stroke="#30ffcf" stroke-width="3.22"/><path d="M796.66 348.97L798.16 348.78" stroke="#30ffcf" stroke-width="3.23"/><path d="M798.16 348.78L799.65 348.59" stroke="#30ffcf" stroke-width="3.23"/><path d="M799.65 348.59L801.15 348.40" stroke="#20ffdf" stroke-width="3.23"/><path d="M801.15 348.40L802.65 348.20" stroke="#20ffdf" stroke-width="3.23"/><path d="M802.65 348.20L804.14 348.00" stroke="#20ffdf" stroke-width="3.23"/><path d="M804.14 348.00L805.64 347.79" stroke="#20ffdf" stroke-width="3.23"/><path d="M805.64 347.79L807.13 347.58" stroke="#20ffdf" stroke-width="3.23"/><path d="M807.13 347.58L808.63 347.37" stroke="#20ffdf" stroke-width="3.23"/><path d="M808.63 347.37L810.12 347.15" stroke="#10ffef" stroke-width="3.24"/><path d="M810.12 347.15L811.61 346.92" stroke="#10ffef" stroke-width="3.24"/><path d="M811.61 346.92L813.11 346.69" stroke="#10ffef" stroke-width="3.24"/><path d="M813.11 346.69L814.60 346.46" stroke="#10ffef" stroke-width="3.24"/><path d="M814.60 346.46L816.09 346.22" stroke="#10ffef" stroke-width="3.24"/><path d="M816.09 346.22L817.59 345.97" stroke="#10ffef" stroke-width="3.24"/><path d="M817.59 345.97L819.08 345.72" stroke="#00ffff" stroke-width="3.25"/><path d="M819.08 345.72L820.57 345.47" stroke="#00ffff" stroke-width="3.25"/><path d="M820.57 345.47L822.06 345.21" stroke="#00ffff" stroke-width="3.25"/><path d="M822.06 345.21L823.55 344.94" stroke="#00ffff" stroke-width="3.25"/><path d="M823.55 344.94L825.04 344.67" stroke="#00ffff" stroke-width="3.25"/><path d="M825.04 344.67L826.53 344.39" stroke="#00ffff" stroke-width="3.26"/><path d="M826.53 344.39L828.02 344.11" stroke="#00efff" stroke-width="3.26"/><path d="M828.02 344.11L829.51 343.82" stroke="#00efff" stroke-width="3.26"/><path d="M829.51 343.82L830.99 343.52" stroke="#00efff" stroke-width="3.26"/><path d="M830.99 343.52L832.48 343.22" stroke="#00efff" stroke-width="3.27"/><path d="M832.48 343.22L833.97 342.91" stroke="#00efff" stroke-width="3.27"/><path d="M833.97 342.91L835.45 342.60" stroke="#00efff" stroke-width="3.27"/><path d="M835.45 342.60L836.94 342.28" stroke="#00efff" stroke-width="3.28"/><path d="M836.94 342.28L838.42 341.95" stroke="#00dfff" stroke-width="3.28"/><path d="M838.42 341.95L839.90 341.62" stroke="#00dfff" stroke-width="3.28"/><path d="M839.90 341.62L841.38 341.28" stroke="#00dfff" stroke-width="3.28"/><path d="M841.38 341.28L842.87 340.93" stroke="#00dfff" stroke-width="3.29"/><path d="M842.87 340.93L844.35 340.58" stroke="#00dfff" stroke-width="3.29"/><path d="M844.35 340.58L845.83 340.22" stroke="#00dfff" stroke-width="3.29"/><path d="M845.83 340.22L847.31 339.85" stroke="#00cfff" stroke-width="3.30"/><path d="M847.31 339.85L848.78 339.48" stroke="#00cfff" stroke-width="3.30"/><path d="M848.78 339.48L850.26 339.10" stroke="#00cfff" stroke-width="3.31"/><path d="M850.26 339.10L851.74 338.71" stroke="#00cfff" stroke-width="3.31"/><path d="M851.74 338.71L853.21 338.31" stroke="#00bfff" stroke-width="3.31"/><path d="M853.21 338.31L854.68 337.91" stroke="#00bfff" stroke-width="3.32"/><path d="M854.68 337.91L856.15 337.50" stroke="#00bfff" stroke-width="3.32"/><path d="M856.15 337.50L857.62 337.08" stroke="#00bfff" stroke-width="3.33"/><path d="M857.62 337.08L859.09 336.66" stroke="#00bfff" stroke-width="3.33"/><path d="M859.09 336.66L860.55 336.23" stroke="#00afff" stroke-width="3.34"/><path d="M860.55 336.23L862.01 335.79" stroke="#00afff" stroke-width="3.34"/><path d="M862.01 335.79L863.47 335.34" stroke="#00afff" stroke-width="3.35"/><path d="M863.47 335.34L864.93 334.89" stroke="#00afff" stroke-width="3.35"/><path d="M864.93 334.89L866.39 334.42" stroke="#00afff" stroke-width="3.36"/><path d="M866.39 334.42L867.84 333.95" stroke="#009fff" stroke-width="3.36"/><path d="M867.84 333.95L869.29 333.47" stroke="#009fff" stroke-width="3.37"/><path d="M869.29 333.47L870.73 332.99" stroke="#009fff" stroke-width="3.37"/><path d="M870.73 332.99L872.17 332.49" stroke="#009fff" stroke-width="3.38"/><path d="M872.17 332.49L873.61 331.99" stroke="#009fff" stroke-width="3.38"/><path d="M873.61 331.99L875.05 331.48" stroke="#008fff" stroke-width="3.39"/><path d="M875.05 331.48L876.48 330.96" stroke="#008fff" stroke-width="3.40"/><path d="M876.48 330.96L877.91 330.43" stroke="#008fff" stroke-width="3.40"/><path d="M877.91 330.43L879.33 329.90" stroke="#008fff" stroke-width="3.41"/><path d="M879.33 329.90L880.75 329.35" stroke="#008fff" stroke-width="3.42"/><path d="M880.75 329.35L882.17 328.80" stroke="#0080ff" stroke-width="3.42"/><path d="M882.17 328.80L883.58 328.24" stroke="#0080ff" stroke-width="3.43"/><path d="M883.58 328.24L884.99 327.67" stroke="#0080ff" stroke-width="3.44"/><path d="M884.99 327.67L886.39 327.09" stroke="#0080ff" stroke-width="3.45"/><path d="M886.39 327.09L887.79 326.50" stroke="#0070ff" stroke-width="3.45"/><path d="M887.79 326.50L889.18 325.91" stroke="#0070ff" stroke-width="3.46"/><path d="M889.18 325.91L890.57 325.30" stroke="#0070ff" stroke-width="3.47"/><path d="M890.57 325.30L891.95 324.69" stroke="#0070ff" stroke-width="3.48"/><path d="M891.95 324.69L893.33 324.07" stroke="#0060ff" stroke-width="3.49"/><path d="M893.33 324.07L894.70 323.44" stroke="#0060ff" stroke-width="3.50"/><path d="M894.70 323.44L896.07 322.80" stroke="#0060ff" stroke-width="3.51"/><path d="M896.07 322.80L897.43 322.15" stroke="#0060ff" stroke-width="3.52"/><path d="M897.43 322.15L898.78 321.49" stroke="#0050ff" stroke-width="3.52"/><path d="M898.78 321.49L900.13 320.82" stroke="#0050ff" stroke-width="3.53"/><path d="M900.13 320.82L901.48 320.14" stroke="#0050ff" stroke-width="3.54"/><path d="M901.48 320.14L902.82 319.45" stroke="#0050ff" stroke-width="3.55"/><path d="M902.82 319.45L904.15 318.76" stroke="#0050ff" stroke-width="3.57"/><path d="M904.15 318.76L905.47 318.05" stroke="#0050ff" stroke-width="3.58"/><path d="M905.47 318.05L906.79 317.34" stroke="#0040ff" stroke-width="3.59"/><path d="M906.79 317.34L908.10 316.61" stroke="#0040ff" stroke-width="3.60"/><path d="M908.10 316.61L909.40 315.88" stroke="#0040ff" stroke-width="3.61"/><path d="M909.40 315.88L910.70 315.13" stroke="#0040ff" stroke-width="3.62"/><path d="M910.70 315.13L911.99 314.38" stroke="#0040ff" stroke-width="3.63"/><path d="M911.99 314.38L913.27 313.61" stroke="#0040ff" stroke-width="3.65"/><path d="M913.27 313.61L914.55 312.84" stroke="#0030ff" stroke-width="3.66"/><path d="M914.55 312.84L915.82 312.05" stroke="#0030ff" stroke-width="3.67"/><path d="M915.82 312.05L917.08 311.26" stroke="#0030ff" stroke-width="3.68"/><path d="M917.08 311.26L918.33 310.45" stroke="#0030ff" stroke-width="3.70"/><path d="M918.33 310.45L919.58 309.64" stroke="#0030ff" stroke-width="3.71"/><path d="M919.58 309.64L920.81 308.81" stroke="#0030ff" stroke-width="3.72"/><path d="M920.81 308.81L922.04 307.98" stroke="#0030ff" stroke-width="3.74"/><path d="M922.04 307.98L923.26 307.13" stroke="#0020ff" stroke-width="3.75"/><path d="M923.26 307.13L924.47 306.27" stroke="#0020ff" stroke-width="3.77"/><path d="M924.47 306.27L925.67 305.41" stroke="#0020ff" stroke-width="3.78"/><path d="M925.67 305.41L926.87 304.53" stroke="#0020ff" stroke-width="3.80"/><path d="M926.87 304.53L928.05 303.64" stroke="#0020ff" stroke-width="3.81"/><path d="M928.05 303.64L929.23 302.74" stroke="#0020ff" stroke-width="3.83"/><path d="M929.23 302.74L930.40 301.83" stroke="#0020ff" stroke-width="3.84"/><path d="M930.40 301.83L931.56 300.91" stroke="#0020ff" stroke-width="3.86"/><path d="M931.56 300.91L932.70 299.98" stroke="#0020ff" stroke-width="3.87"/><path d="M932.70 299.98L933.84 299.04" stroke="#0010ff" stroke-width="3.89"/><path d="M933.84 299.04L934.97 298.08" stroke="#0010ff" stroke-width="3.91"/><path d="M934.97 298.08L936.09 297.12" stroke="#0010ff" stroke-width="3.92"/><path d="M936.09 297.12L937.20 296.14" stroke="#0010ff" stroke-width="3.94"/><path d="M937.20 296.14L938.30 295.15" stroke="#0010ff" stroke-width="3.96"/><path d="M938.30 295.15L939.39 294.15" stroke="#0010ff" stroke-width="3.98"/><path d="M939.39 294.15L940.47 293.14" stroke="#0010ff" stroke-width="3.99"/><path d="M940.47 293.14L941.54 292.12" stroke="#0010ff" stroke-width="4.01"/><path d="M941.54 292.12L942.60 291.09" stroke="#0010ff" stroke-width="4.03"/><path d="M942.60 291.09L943.64 290.04" stroke="#0010ff" stroke-width="4.05"/><path d="M943.64 290.04L944.68 288.99" stroke="#0000ff" stroke-width="4.07"/><path d="M944.68 288.99L945.70 287.92" stroke="#0000ff" stroke-width="4.08"/><path d="M945.70 287.92L946.72 286.84" stroke="#0000ff" stroke-width="4.10"/><path d="M946.72 286.84L947.72 285.75" stroke="#0000ff" stroke-width="4.12"/><path d="M947.72 285.75L948.71 284.65" stroke="#0000ff" stroke-width="4.14"/><path d="M948.71 284.65L949.69 283.53" stroke="#0000ff" stroke-width="4.16"/><path d="M949.69 283.53L950.67 282.41" stroke="#0000ff" stroke-width="4.17"/><path d="M950.67 282.41L951.63 281.27" stroke="#0000ff" stroke-width="4.19"/><path d="M951.63 281.27L952.57 280.13" stroke="#0000ff" stroke-width="4.21"/><path d="M952.57 280.13L953.51 278.97" stroke="#0000ff" stroke-width="4.22"/><path d="M953.51 278.97L954.44 277.81" stroke="#0000ef" stroke-width="4.24"/><path d="M954.44 277.81L955.36 276.63" stroke="#0000ef" stroke-width="4.26"/><path d="M955.36 276.63L956.26 275.44" stroke="#0000ef" stroke-width="4.27"/><path d="M956.26 275.44L957.16 274.25" stroke="#0000ef" stroke-width="4.29"/><path d="M957.16 274.25L958.05 273.04" stroke="#0000ef" stroke-width="4.30"/><path d="M958.05 273.04L958.92 271.83" stroke="#0000ef" stroke-width="4.32"/><path d="M958.92 271.83L959.79 270.61" stroke="#0000ef" stroke-width="4.33"/><path d="M959.79 270.61L960.64 269.37" stroke="#0000ef" stroke-width="4.35"/><path d="M960.64 269.37L961.49 268.13" stroke="#0000ef" stroke-width="4.36"/><path d="M961.49 268.13L962.32 266.88" stroke="#0000ef" stroke-width="4.38"/><path d="M962.32 266.88L963.15 265.62" stroke="#0000ef" stroke-width="4.39"/><path d="M963.15 265.62L963.97 264.36" stroke="#0000df" stroke-width="4.40"/><path d="M963.97 264.36L964.77 263.08" stroke="#0000df" stroke-width="4.41"/><path d="M964.77 263.08L965.57 261.80" stroke="#0000df" stroke-width="4.43"/><path d="M965.57 261.80L966.35 260.51" stroke="#0000df" stroke-width="4.44"/><path d="M966.35 260.51L967.13 259.21" stroke="#0000df" stroke-width="4.45"/><path d="M967.13 259.21L967.89 257.91" stroke="#0000df" stroke-width="4.46"/><path d="M967.89 257.91L968.65 256.59" stroke="#0000df" stroke-width="4.48"/><path d="M968.65 256.59L969.40 255.28" stroke="#0000df" stroke-width="4.49"/><path d="M969.40 255.28L970.14 253.95" stroke="#0000df" stroke-width="4.50"/><path d="M970.14 253.95L970.87 252.62" stroke="#0000df" stroke-width="4.51"/><path d="M970.87 252.62L971.59 251.28" stroke="#0000df" stroke-width="4.52"/><path d="M971.59 251.28L972.30 249.93" stroke="#0000df" stroke-width="4.53"/><path d="M972.30 249.93L973.00 248.58" stroke="#0000df" stroke-width="4.54"/><path d="M973.00 248.58L973.69 247.22" stroke="#0000cf" stroke-width="4.55"/><path d="M973.69 247.22L974.37 245.86" stroke="#0000cf" stroke-width="4.56"/><path d="M974.37 245.86L975.04 244.49" stroke="#0000cf" stroke-width="4.57"/><path d="M975.04 244.49L975.71 243.12" stroke="#0000cf" stroke-width="4.58"/><path d="M975.71 243.12L976.36 241.74" stroke="#0000cf" stroke-width="4.59"/><path d="M976.36 241.74L977.01 240.35" stroke="#0000cf" stroke-width="4.60"/><path d="M977.01 240.35L977.65 238.97" stroke="#0000cf" stroke-width="4.60"/><path d="M977.65 238.97L978.28 237.57" stroke="#0000cf" stroke-width="4.61"/><path d="M978.28 237.57L978.90 236.17" stroke="#0000cf" stroke-width="4.62"/><path d="M978.90 236.17L979.51 234.77" stroke="#0000cf" stroke-width="4.63"/><path d="M979.51 234.77L980.11 233.36" stroke="#0000cf" stroke-width="4.64"/><path d="M980.11 233.36L980.71 231.95" stroke="#0000cf" stroke-width="4.64"/><path d="M980.71 231.95L981.29 230.54" stroke="#0000cf" stroke-width="4.65"/><path d="M981.29 230.54L981.87 229.12" stroke="#0000bf" stroke-width="4.66"/><path d="M981.87 229.12L982.44 227.70" stroke="#0000bf" stroke-width="4.66"/><path d="M982.44 227.70L983.00 226.28" stroke="#0000bf" stroke-width="4.67"/><path d="M983.00 226.28L983.55 224.85" stroke="#0000bf" stroke-width="4.68"/><path d="M983.55 224.85L984.10 223.42" stroke="#0000bf" stroke-width="4.68"/><path d="M984.10 223.42L984.63 221.98" stroke="#0000bf" stroke-width="4.69"/><path d="M984.63 221.98L985.16 220.55" stroke="#0000bf" stroke-width="4.70"/><path d="M985.16 220.55L985.68 219.11" stroke="#0000bf" stroke-width="4.70"/><path d="M985.68 219.11L986.20 217.67" stroke="#0000bf" stroke-width="4.71"/><path d="M986.20 217.67L986.70 216.23" stroke="#0000bf" stroke-width="4.71"/><path d="M986.70 216.23L987.20 214.78" stroke="#0000af" stroke-width="4.72"/><path d="M987.20 214.78L987.69 213.34" stroke="#0000af" stroke-width="4.73"/><path d="M987.69 213.34L988.17 211.89" stroke="#0000af" stroke-width="4.73"/><path d="M988.17 211.89L988.64 210.44" stroke="#0000af" stroke-width="4.74"/><path d="M988.64 210.44L989.11 208.99" stroke="#0000af" stroke-width="4.74"/><path d="M989.11 208.99L989.57 207.54" stroke="#0000af" stroke-width="4.75"/><path d="M989.57 207.54L990.02 206.09" stroke="#0000af" stroke-width="4.75"/><path d="M990.02 206.09L990.46 204.64" stroke="#0000af" stroke-width="4.75"/><path d="M990.46 204.64L990.90 203.19" stroke="#0000af" stroke-width="4.76"/><path d="M990.90 203.19L991.33 201.74" stroke="#0000af" stroke-width="4.76"/><path d="M991.33 201.74L991.75 200.28" stroke="#0000af" stroke-width="4.77"/><path d="M991.75 200.28L992.16 198.83" stroke="#0000af" stroke-width="4.77"/><path d="M992.16 198.83L992.57 197.38" stroke="#0000af" stroke-width="4.78"/><path d="M992.57 197.38L992.97 195.93" stroke="#00009f" stroke-width="4.78"/><path d="M992.97 195.93L993.36 194.48" stroke="#00009f" stroke-width="4.78"/><path d="M993.36 194.48L993.75 193.03" stroke="#00009f" stroke-width="4.79"/><path d="M993.75 193.03L994.13 191.58" stroke="#00009f" stroke-width="4.79"/><path d="M994.13 191.58L994.50 190.13" stroke="#00009f" stroke-width="4.79"/><path d="M994.50 190.13L994.87 188.69" stroke="#00009f" stroke-width="4.80"/><path d="M994.87 188.69L995.23 187.24" stroke="#00009f" stroke-width="4.80"/><path d="M995.23 187.24L995.58 185.80" stroke="#00009f" stroke-width="4.80"/><path d="M995.58 185.80L995.93 184.36" stroke="#00009f" stroke-width="4.81"/><path d="M995.93 184.36L996.27 182.92" stroke="#00009f" stroke-width="4.81"/><path d="M996.27 182.92L996.60 181.48" stroke="#00009f" stroke-width="4.81"/><path d="M996.60 181.48L996.93 180.05" stroke="#00009f" stroke-width="4.82"/><path d="M996.93 180.05L997.25 178.62" stroke="#00009f" stroke-width="4.82"/><path d="M997.25 178.62L997.56 177.19" stroke="#00009f" stroke-width="4.82"/><path d="M997.56 177.19L997.87 175.76" stroke="#00008f" stroke-width="4.82"/><path d="M997.87 175.76L998.17 174.34" stroke="#00008f" stroke-width="4.83"/><path d="M998.17 174.34L998.47 172.92" stroke="#00008f" stroke-width="4.83"/><path d="M998.47 172.92L998.76 171.51" stroke="#00008f" stroke-width="4.83"/></g><g fill="none" stroke-width="5.20" stroke-linecap="butt"><circle cx="1050.70" cy="76.70" r="2.60" fill="#00008f"/><path d="M1050.70 76.40V79.01" stroke="#00009f"/><path d="M1050.70 78.41V81.02" stroke="#00009f"/><path d="M1050.70 80.42V83.03" stroke="#00009f"/><path d="M1050.70 82.43V85.04" stroke="#00009f"/><path d="M1050.70 84.44V87.05" stroke="#00009f"/><path d="M1050.70 86.45V89.05" stroke="#00009f"/><path d="M1050.70 88.45V91.06" stroke="#00009f"/><path d="M1050.70 90.46V93.07" stroke="#00009f"/><path d="M1050.70 92.47V95.08" stroke="#00009f"/><path d="M1050.70 94.48V97.09" stroke="#00009f"/><path d="M1050.70 96.49V99.10" stroke="#00009f"/><path d="M1050.70 98.50V101.11" stroke="#0000af"/><path d="M1050.70 100.51V103.12" stroke="#0000af"/><path d="M1050.70 102.52V105.13" stroke="#0000af"/><path d="M1050.70 104.53V107.14" stroke="#0000af"/><path d="M1050.70 106.54V109.15" stroke="#0000af"/><path d="M1050.70 108.55V111.15" stroke="#0000af"/><path d="M1050.70 110.55V113.16" stroke="#0000af"/><path d="M1050.70 112.56V115.17" stroke="#0000af"/><path d="M1050.70 114.57V117.18" stroke="#0000af"/><path d="M1050.70 116.58V119.19" stroke="#0000af"/><path d="M1050.70 118.59V121.20" stroke="#0000bf"/><path d="M1050.70 120.60V123.21" stroke="#0000bf"/><path d="M1050.70 122.61V125.22" stroke="#0000bf"/><path d="M1050.70 124.62V127.23" stroke="#0000bf"/><path d="M1050.70 126.63V129.24" stroke="#0000bf"/><path d="M1050.70 128.64V131.25" stroke="#0000bf"/><path d="M1050.70 130.65V133.25" stroke="#0000bf"/><path d="M1050.70 132.65V135.26" stroke="#0000bf"/><path d="M1050.70 134.66V137.27" stroke="#0000bf"/><path d="M1050.70 136.67V139.28" stroke="#0000bf"/><path d="M1050.70 138.68V141.29" stroke="#0000cf"/><path d="M1050.70 140.69V143.30" stroke="#0000cf"/><path d="M1049.20 142.70V145.30" stroke="#0000cf"/><path d="M1049.20 144.70V147.30" stroke="#0000cf"/><path d="M1049.20 146.70V149.30" stroke="#0000cf"/><path d="M1049.20 148.70V151.30" stroke="#0000cf"/><path d="M1049.20 150.70V153.30" stroke="#0000cf"/><path d="M1049.20 152.70V155.30" stroke="#0000cf"/><path d="M1049.20 154.70V157.30" stroke="#0000cf"/><path d="M1049.20 156.70V159.30" stroke="#0000df"/><path d="M1049.20 158.70V161.30" stroke="#0000df"/><path d="M1049.20 160.70V163.30" stroke="#0000df"/><path d="M1049.20 162.70V165.30" stroke="#0000df"/><path d="M1049.20 164.70V167.30" stroke="#0000df"/><path d="M1049.20 166.70V169.30" stroke="#0000df"/><path d="M1049.20 168.70V171.30" stroke="#0000df"/><path d="M1049.20 170.70V173.30" stroke="#0000df"/><path d="M1049.20 172.70V175.30" stroke="#0000df"/><path d="M1049.20 174.70V177.30" stroke="#0000df"/><path d="M1049.20 176.70V179.30" stroke="#0000ef"/><path d="M1049.20 178.70V181.30" stroke="#0000ef"/><path d="M1049.20 180.70V183.30" stroke="#0000ef"/><path d="M1049.20 182.70V185.30" stroke="#0000ef"/><path d="M1049.20 184.70V187.30" stroke="#0000ef"/><path d="M1049.20 186.70V189.30" stroke="#0000ef"/><path d="M1049.20 188.70V191.30" stroke="#0000ef"/><path d="M1049.20 190.70V193.30" stroke="#0000ef"/><path d="M1049.20 192.70V195.30" stroke="#0000ef"/><path d="M1049.20 194.70V197.30" stroke="#0000ef"/><path d="M1049.20 196.70V199.30" stroke="#0000ff"/><path d="M1049.20 198.70V201.30" stroke="#0000ff"/><path d="M1049.20 200.70V203.30" stroke="#0000ff"/><path d="M1049.20 202.70V205.30" stroke="#0000ff"/><path d="M1049.20 204.70V207.30" stroke="#0000ff"/><path d="M1049.20 206.70V209.30" stroke="#0000ff"/><path d="M1049.20 208.70V211.30" stroke="#0000ff"/><path d="M1049.20 210.70V213.30" stroke="#0000ff"/><path d="M1049.20 212.70V215.30" stroke="#0000ff"/><path d="M1049.20 214.70V217.30" stroke="#0000ff"/><path d="M1048.00 216.70V219.30" stroke="#0010ff"/><path d="M1048.00 218.70V221.30" stroke="#0010ff"/><path d="M1048.00 220.70V223.30" stroke="#0010ff"/><path d="M1048.00 222.70V225.30" stroke="#0020ff"/><path d="M1048.00 224.70V227.30" stroke="#0020ff"/><path d="M1048.00 226.70V229.30" stroke="#0020ff"/><path d="M1048.00 228.70V231.30" stroke="#0020ff"/><path d="M1048.00 230.70V233.30" stroke="#0030ff"/><path d="M1048.00 232.70V235.30" stroke="#0030ff"/><path d="M1048.00 234.70V237.30" stroke="#0030ff"/><path d="M1048.00 236.70V239.30" stroke="#0030ff"/><path d="M1048.00 238.70V241.30" stroke="#0040ff"/><path d="M1048.00 240.70V243.30" stroke="#0040ff"/><path d="M1048.00 242.70V245.30" stroke="#0040ff"/><path d="M1048.00 244.70V247.30" stroke="#0040ff"/><path d="M1048.00 246.70V249.30" stroke="#0050ff"/><path d="M1047.00 248.70V251.41" stroke="#0050ff"/><path d="M1047.00 250.81V253.52" stroke="#0050ff"/><path d="M1047.00 252.92V255.63" stroke="#0050ff"/><path d="M1047.00 255.03V257.74" stroke="#0060ff"/><path d="M1047.00 257.14V259.86" stroke="#0060ff"/><path d="M1047.00 259.26V261.97" stroke="#0060ff"/><path d="M1047.00 261.37V264.08" stroke="#0060ff"/><path d="M1047.00 263.48V266.19" stroke="#0060ff"/><path d="M1047.00 265.59V268.30" stroke="#0060ff"/><path d="M1046.30 267.70V270.41" stroke="#0070ff"/><path d="M1046.30 269.81V272.52" stroke="#0070ff"/><path d="M1046.30 271.92V274.63" stroke="#0070ff"/><path d="M1046.30 274.03V276.74" stroke="#0080ff"/><path d="M1046.30 276.14V278.86" stroke="#0080ff"/><path d="M1046.30 278.26V280.97" stroke="#0080ff"/><path d="M1046.30 280.37V283.08" stroke="#0080ff"/><path d="M1046.30 282.48V285.19" stroke="#0080ff"/><path d="M1046.30 284.59V287.30" stroke="#0080ff"/><path d="M1045.00 286.70V289.30" stroke="#008fff"/><path d="M1045.00 288.70V291.30" stroke="#009fff"/><path d="M1045.00 290.70V293.30" stroke="#009fff"/><path d="M1045.00 292.70V295.30" stroke="#009fff"/><path d="M1045.00 294.70V297.30" stroke="#009fff"/><path d="M1044.00 296.70V299.30" stroke="#00afff"/><path d="M1044.00 298.70V301.30" stroke="#00bfff"/><path d="M1044.00 300.70V303.30" stroke="#00bfff"/><path d="M1044.00 302.70V305.30" stroke="#00cfff"/><path d="M1044.00 304.70V307.30" stroke="#00cfff"/><path d="M1043.30 306.70V309.30" stroke="#00efff"/><path d="M1043.30 308.70V311.30" stroke="#00efff"/><path d="M1043.30 310.70V313.30" stroke="#00ffff"/><path d="M1043.30 312.70V315.30" stroke="#00ffff"/></g><g fill="none" stroke-linecap="round"><circle cx="1043.15" cy="313.12" r="2.33" fill="#00ffff"/><circle cx="1024.40" cy="369.71" r="2.09" fill="#800000"/><path d="M1043.15 313.12L1042.96 314.09" stroke="#00ffff" stroke-width="4.65"/><path d="M1042.96 314.09L1042.78 315.07" stroke="#10ffef" stroke-width="4.66"/><path d="M1042.78 315.07L1042.59 316.05" stroke="#10ffef" stroke-width="4.66"/><path d="M1042.59 316.05L1042.41 317.04" stroke="#20ffdf" stroke-width="4.66"/><path d="M1042.41 317.04L1042.24 318.03" stroke="#20ffdf" stroke-width="4.66"/><path d="M1042.24 318.03L1042.06 319.02" stroke="#20ffdf" stroke-width="4.66"/><path d="M1042.06 319.02L1041.88 320.02" stroke="#30ffcf" stroke-width="4.66"/><path d="M1041.88 320.02L1041.71 321.02" stroke="#30ffcf" stroke-width="4.66"/><path d="M1041.71 321.02L1041.53 322.03" stroke="#30ffcf" stroke-width="4.66"/><path d="M1041.53 322.03L1041.35 323.04" stroke="#40ffbf" stroke-width="4.66"/><path d="M1041.35 323.04L1041.17 324.05" stroke="#40ffbf" stroke-width="4.66"/><path d="M1041.17 324.05L1041.00 325.06" stroke="#50ffaf" stroke-width="4.66"/><path d="M1041.00 325.06L1040.81 326.07" stroke="#50ffaf" stroke-width="4.66"/><path d="M1040.81 326.07L1040.63 327.09" stroke="#60ff9f" stroke-width="4.66"/><path d="M1040.63 327.09L1040.45 328.10" stroke="#60ff9f" stroke-width="4.66"/><path d="M1040.45 328.10L1040.26 329.12" stroke="#70ff8f" stroke-width="4.66"/><path d="M1040.26 329.12L1040.07 330.14" stroke="#70ff8f" stroke-width="4.66"/><path d="M1040.07 330.14L1039.87 331.16" stroke="#80ff80" stroke-width="4.65"/><path d="M1039.87 331.16L1039.68 332.17" stroke="#80ff80" stroke-width="4.65"/><path d="M1039.68 332.17L1039.47 333.19" stroke="#8fff70" stroke-width="4.65"/><path d="M1039.47 333.19L1039.27 334.21" stroke="#9fff60" stroke-width="4.65"/><path d="M1039.27 334.21L1039.06 335.23" stroke="#9fff60" stroke-width="4.65"/><path d="M1039.06 335.23L1038.84 336.24" stroke="#afff50" stroke-width="4.64"/><path d="M1038.84 336.24L1038.62 337.26" stroke="#afff50" stroke-width="4.64"/><path d="M1038.62 337.26L1038.39 338.27" stroke="#afff50" stroke-width="4.64"/><path d="M1038.39 338.27L1038.15 339.28" stroke="#bfff40" stroke-width="4.63"/><path d="M1038.15 339.28L1037.91 340.29" stroke="#bfff40" stroke-width="4.63"/><path d="M1037.91 340.29L1037.66 341.30" stroke="#cfff30" stroke-width="4.63"/><path d="M1037.66 341.30L1037.41 342.30" stroke="#dfff20" stroke-width="4.62"/><path d="M1037.41 342.30L1037.14 343.30" stroke="#efff10" stroke-width="4.62"/><path d="M1037.14 343.30L1036.87 344.30" stroke="#efff10" stroke-width="4.61"/><path d="M1036.87 344.30L1036.59 345.29" stroke="#ffff00" stroke-width="4.60"/><path d="M1036.59 345.29L1036.30 346.28" stroke="#ffef00" stroke-width="4.60"/><path d="M1036.30 346.28L1036.00 347.27" stroke="#ffdf00" stroke-width="4.59"/><path d="M1036.00 347.27L1035.69 348.25" stroke="#ffcf00" stroke-width="4.58"/><path d="M1035.69 348.25L1035.37 349.23" stroke="#ffcf00" stroke-width="4.57"/><path d="M1035.37 349.23L1035.04 350.20" stroke="#ffbf00" stroke-width="4.57"/><path d="M1035.04 350.20L1034.70 351.16" stroke="#ffaf00" stroke-width="4.56"/><path d="M1034.70 351.16L1034.35 352.12" stroke="#ff9f00" stroke-width="4.55"/><path d="M1034.35 352.12L1033.99 353.08" stroke="#ff8f00" stroke-width="4.54"/><path d="M1033.99 353.08L1033.61 354.03" stroke="#ff8f00" stroke-width="4.52"/><path d="M1033.61 354.03L1033.22 354.97" stroke="#ff8000" stroke-width="4.51"/><path d="M1033.22 354.97L1032.82 355.90" stroke="#ff7000" stroke-width="4.50"/><path d="M1032.82 355.90L1032.41 356.83" stroke="#ff6000" stroke-width="4.48"/><path d="M1032.41 356.83L1031.98 357.75" stroke="#ff6000" stroke-width="4.47"/><path d="M1031.98 357.75L1031.54 358.66" stroke="#ff5000" stroke-width="4.45"/><path d="M1031.54 358.66L1031.09 359.57" stroke="#ff4000" stroke-width="4.44"/><path d="M1031.09 359.57L1030.62 360.47" stroke="#ff4000" stroke-width="4.42"/><path d="M1030.62 360.47L1030.14 361.35" stroke="#ff3000" stroke-width="4.40"/><path d="M1030.14 361.35L1029.64 362.23" stroke="#ff2000" stroke-width="4.38"/><path d="M1029.64 362.23L1029.12 363.10" stroke="#ff1000" stroke-width="4.36"/><path d="M1029.12 363.10L1028.59 363.96" stroke="#ff1000" stroke-width="4.34"/><path d="M1028.59 363.96L1028.04 364.82" stroke="#ff0000" stroke-width="4.32"/><path d="M1028.04 364.82L1027.48 365.66" stroke="#ef0000" stroke-width="4.30"/><path d="M1027.48 365.66L1026.90 366.49" stroke="#df0000" stroke-width="4.27"/><path d="M1026.90 366.49L1026.30 367.31" stroke="#cf0000" stroke-width="4.25"/><path d="M1026.30 367.31L1025.69 368.12" stroke="#bf0000" stroke-width="4.22"/><path d="M1025.69 368.12L1025.05 368.92" stroke="#af0000" stroke-width="4.20"/><path d="M1025.05 368.92L1024.40 369.71" stroke="#8f0000" stroke-width="4.17"/></g><path d="M243.0 256.6L289.6 303.1" stroke="#0000ff" stroke-width="1"/><path d="M297.3 310.8L282.9 304.7L289.6 303.1L291.1 296.5Z" fill="#0000ff"/><text x="217.0" y="252.2" font-size="18.6" text-anchor="start" fill="#0000ff" textLength="25.1" lengthAdjust="spacingAndGlyphs">NH</text><path d="M393.8 353.0L420.5 317.2" stroke="#ff0000" stroke-width="1"/><path d="M427.0 308.5L423.0 323.6L420.5 317.2L413.7 316.7Z" fill="#ff0000"/><text x="363.9" y="372.4" font-size="18.6" text-anchor="start" fill="#ff0000" textLength="31.0" lengthAdjust="spacingAndGlyphs">P10</text><path d="M896.8 248.1L928.1 280.7" stroke="#0000ff" stroke-width="1"/><path d="M935.6 288.6L921.4 282.1L928.1 280.7L929.8 274.1Z" fill="#0000ff"/><text x="873.0" y="244.4" font-size="18.6" text-anchor="start" fill="#0000ff" textLength="25.6" lengthAdjust="spacingAndGlyphs">NH</text><path d="M993.0 303.0L1028.2 266.0" stroke="#ff0000" stroke-width="1"/><path d="M1035.7 258.1L1029.9 272.6L1028.2 266.0L1021.5 264.6Z" fill="#ff0000"/><text x="961.6" y="321.4" font-size="18.6" text-anchor="start" fill="#ff0000" textLength="31.8" lengthAdjust="spacingAndGlyphs">P10</text></svg>
</body></html>
